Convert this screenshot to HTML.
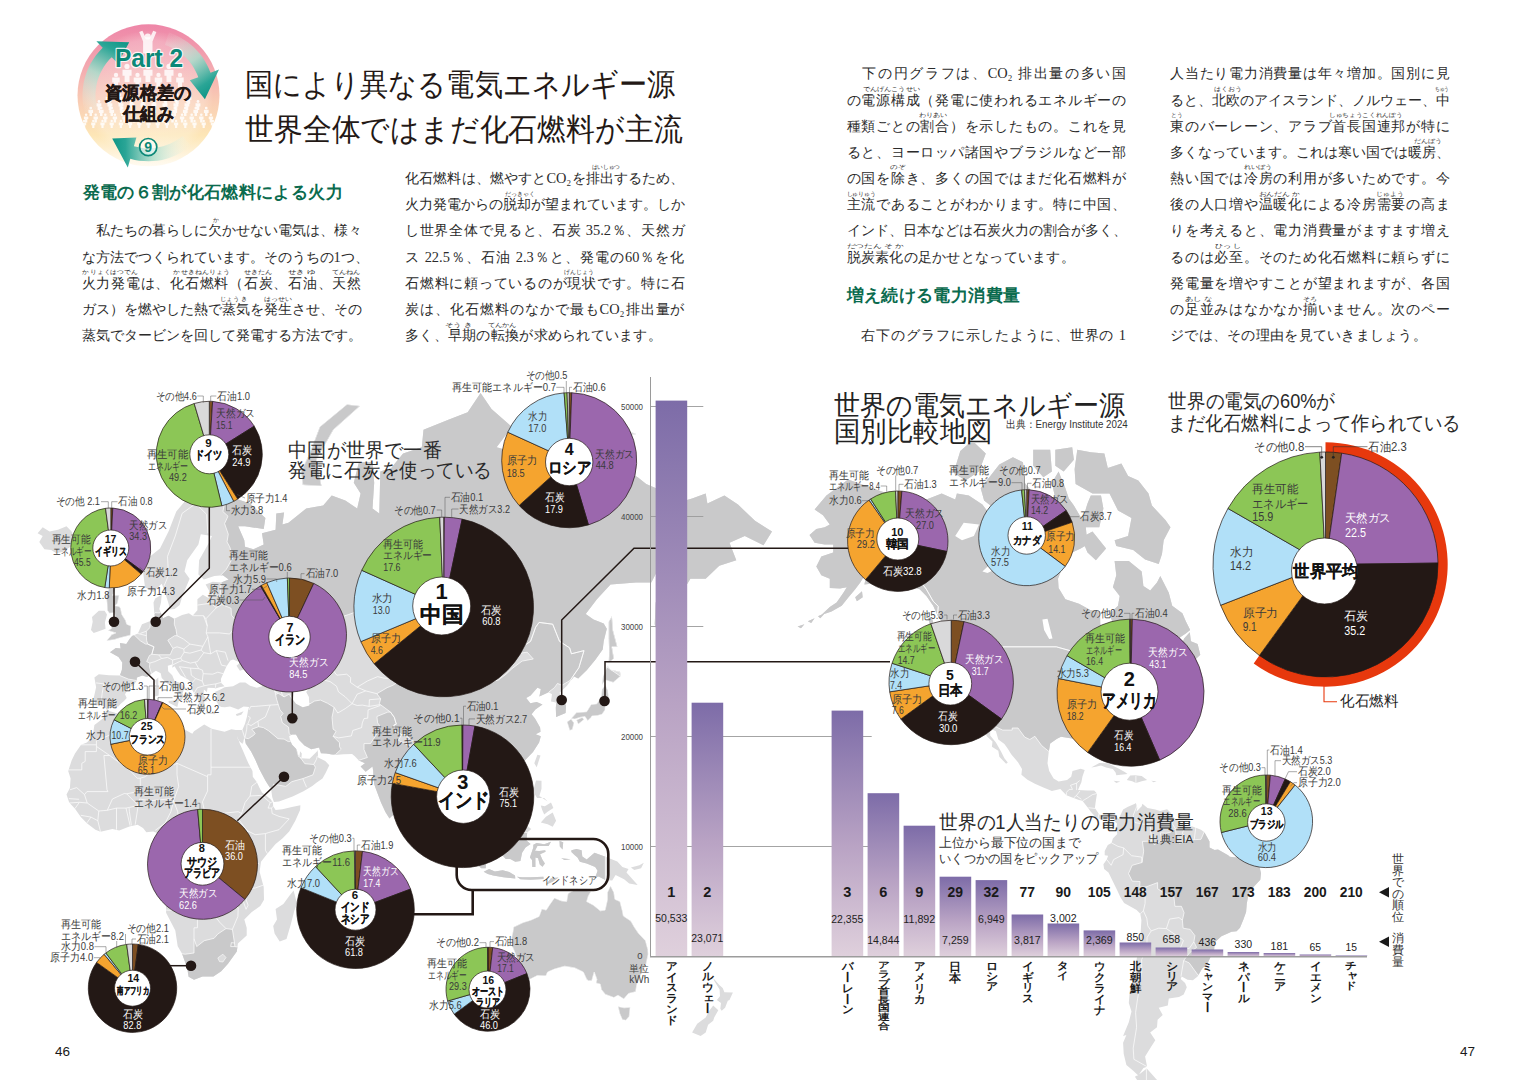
<!DOCTYPE html>
<html lang="ja"><head><meta charset="utf-8"><title>国により異なる電気エネルギー源</title>
<style>
html,body{margin:0;padding:0;background:#fff}
body{width:1530px;height:1080px;position:relative;overflow:hidden;font-family:"Liberation Sans",sans-serif;color:#231815}
svg text{font-family:"Liberation Sans",sans-serif}
.bt{position:absolute;white-space:nowrap;font-family:"Liberation Serif",serif;font-size:14.4px;line-height:20px;height:20px;color:#2b2b2b;text-align:justify;text-align-last:justify;text-justify:inter-character}
.bt.l{text-align:left;text-align-last:left;letter-spacing:.28px}
.hd{position:absolute;white-space:nowrap;font-weight:bold;font-size:17px;line-height:22px;height:22px;color:#0b6b4e;text-align-last:justify;text-justify:inter-character}
.rb{position:absolute;white-space:nowrap;font-family:"Liberation Serif",serif;font-size:6px;line-height:7px;color:#333;letter-spacing:0}
.pn{position:absolute;font-size:13.5px;line-height:16px;color:#1a1a1a}
</style></head><body>
<svg width="765" height="170" viewBox="0 0 765 170" style="position:absolute;left:0;top:0"><defs><linearGradient id="bdg" x1="0" y1="0" x2="0" y2="1"><stop offset="0" stop-color="#ee86a8"/><stop offset="0.3" stop-color="#f3a9b0"/><stop offset="0.55" stop-color="#f9cdb4"/><stop offset="0.78" stop-color="#fde6b6"/><stop offset="1" stop-color="#fffbf2"/></linearGradient><radialGradient id="bdi" cx="0.5" cy="0.5" r="0.5"><stop offset="0" stop-color="#fff" stop-opacity="0.35"/><stop offset="0.85" stop-color="#fff" stop-opacity="0.22"/><stop offset="1" stop-color="#fff" stop-opacity="0"/></radialGradient></defs><circle cx="148.5" cy="95.3" r="71" fill="url(#bdg)"/><circle cx="148.5" cy="95.3" r="65" fill="url(#bdi)"/><g fill="#fff" fill-opacity="0.82"><circle cx="147.8" cy="36.5" r="3.1"/><path d="M139.2 32l3.2-1.2 3 6.5h4.8l3-6.5 3.2 1.2-3.9 9.5v12h-9.4v-12z"/><circle cx="127.0" cy="66.4" r="2.6"/><path d="M122.5 69.7h9.1v6.0h-2.1v6.3h-4.9v-6.3h-2.1z"/><circle cx="148.0" cy="66.4" r="2.6"/><path d="M143.4 69.7h9.1v6.0h-2.1v6.3h-4.9v-6.3h-2.1z"/><circle cx="169.0" cy="66.4" r="2.6"/><path d="M164.4 69.7h9.1v6.0h-2.1v6.3h-4.9v-6.3h-2.1z"/><circle cx="116.0" cy="74.9" r="2.2"/><path d="M112.2 77.6h7.5v4.9h-1.7v5.2h-4.1v-5.2h-1.7z"/><circle cx="137.5" cy="74.9" r="2.2"/><path d="M133.7 77.6h7.5v4.9h-1.7v5.2h-4.1v-5.2h-1.7z"/><circle cx="158.5" cy="74.9" r="2.2"/><path d="M154.7 77.6h7.5v4.9h-1.7v5.2h-4.1v-5.2h-1.7z"/><circle cx="180.0" cy="74.9" r="2.2"/><path d="M176.2 77.6h7.5v4.9h-1.7v5.2h-4.1v-5.2h-1.7z"/><circle cx="108.2" cy="94.8" r="1.5"/><path d="M105.7 96.7h5.2v3.4h-1.2v3.6h-2.8v-3.6h-1.2z"/><circle cx="119.8" cy="94.8" r="1.5"/><path d="M117.2 96.7h5.2v3.4h-1.2v3.6h-2.8v-3.6h-1.2z"/><circle cx="131.2" cy="94.8" r="1.5"/><path d="M128.7 96.7h5.2v3.4h-1.2v3.6h-2.8v-3.6h-1.2z"/><circle cx="142.8" cy="94.8" r="1.5"/><path d="M140.2 96.7h5.2v3.4h-1.2v3.6h-2.8v-3.6h-1.2z"/><circle cx="154.2" cy="94.8" r="1.5"/><path d="M151.7 96.7h5.2v3.4h-1.2v3.6h-2.8v-3.6h-1.2z"/><circle cx="165.8" cy="94.8" r="1.5"/><path d="M163.2 96.7h5.2v3.4h-1.2v3.6h-2.8v-3.6h-1.2z"/><circle cx="177.2" cy="94.8" r="1.5"/><path d="M174.7 96.7h5.2v3.4h-1.2v3.6h-2.8v-3.6h-1.2z"/><circle cx="188.8" cy="94.8" r="1.5"/><path d="M186.2 96.7h5.2v3.4h-1.2v3.6h-2.8v-3.6h-1.2z"/><circle cx="99.0" cy="101.5" r="1.4"/><path d="M96.5 103.3h4.9v3.2h-1.1v3.4h-2.7v-3.4h-1.1z"/><circle cx="110.0" cy="101.5" r="1.4"/><path d="M107.5 103.3h4.9v3.2h-1.1v3.4h-2.7v-3.4h-1.1z"/><circle cx="121.0" cy="101.5" r="1.4"/><path d="M118.5 103.3h4.9v3.2h-1.1v3.4h-2.7v-3.4h-1.1z"/><circle cx="132.0" cy="101.5" r="1.4"/><path d="M129.5 103.3h4.9v3.2h-1.1v3.4h-2.7v-3.4h-1.1z"/><circle cx="143.0" cy="101.5" r="1.4"/><path d="M140.5 103.3h4.9v3.2h-1.1v3.4h-2.7v-3.4h-1.1z"/><circle cx="154.0" cy="101.5" r="1.4"/><path d="M151.5 103.3h4.9v3.2h-1.1v3.4h-2.7v-3.4h-1.1z"/><circle cx="165.0" cy="101.5" r="1.4"/><path d="M162.5 103.3h4.9v3.2h-1.1v3.4h-2.7v-3.4h-1.1z"/><circle cx="176.0" cy="101.5" r="1.4"/><path d="M173.5 103.3h4.9v3.2h-1.1v3.4h-2.7v-3.4h-1.1z"/><circle cx="187.0" cy="101.5" r="1.4"/><path d="M184.5 103.3h4.9v3.2h-1.1v3.4h-2.7v-3.4h-1.1z"/><circle cx="198.0" cy="101.5" r="1.4"/><path d="M195.5 103.3h4.9v3.2h-1.1v3.4h-2.7v-3.4h-1.1z"/><circle cx="90.8" cy="108.1" r="1.4"/><path d="M88.4 109.8h4.7v3.1h-1.1v3.2h-2.5v-3.2h-1.1z"/><circle cx="101.2" cy="108.1" r="1.4"/><path d="M98.9 109.8h4.7v3.1h-1.1v3.2h-2.5v-3.2h-1.1z"/><circle cx="111.8" cy="108.1" r="1.4"/><path d="M109.4 109.8h4.7v3.1h-1.1v3.2h-2.5v-3.2h-1.1z"/><circle cx="122.2" cy="108.1" r="1.4"/><path d="M119.9 109.8h4.7v3.1h-1.1v3.2h-2.5v-3.2h-1.1z"/><circle cx="132.8" cy="108.1" r="1.4"/><path d="M130.4 109.8h4.7v3.1h-1.1v3.2h-2.5v-3.2h-1.1z"/><circle cx="143.2" cy="108.1" r="1.4"/><path d="M140.9 109.8h4.7v3.1h-1.1v3.2h-2.5v-3.2h-1.1z"/><circle cx="153.8" cy="108.1" r="1.4"/><path d="M151.4 109.8h4.7v3.1h-1.1v3.2h-2.5v-3.2h-1.1z"/><circle cx="164.2" cy="108.1" r="1.4"/><path d="M161.9 109.8h4.7v3.1h-1.1v3.2h-2.5v-3.2h-1.1z"/><circle cx="174.8" cy="108.1" r="1.4"/><path d="M172.4 109.8h4.7v3.1h-1.1v3.2h-2.5v-3.2h-1.1z"/><circle cx="185.2" cy="108.1" r="1.4"/><path d="M182.9 109.8h4.7v3.1h-1.1v3.2h-2.5v-3.2h-1.1z"/><circle cx="195.8" cy="108.1" r="1.4"/><path d="M193.4 109.8h4.7v3.1h-1.1v3.2h-2.5v-3.2h-1.1z"/><circle cx="206.2" cy="108.1" r="1.4"/><path d="M203.9 109.8h4.7v3.1h-1.1v3.2h-2.5v-3.2h-1.1z"/><circle cx="86.1" cy="114.8" r="1.3"/><path d="M83.9 116.4h4.4v2.9h-1.0v3.1h-2.4v-3.1h-1.0z"/><circle cx="95.7" cy="114.8" r="1.3"/><path d="M93.5 116.4h4.4v2.9h-1.0v3.1h-2.4v-3.1h-1.0z"/><circle cx="105.3" cy="114.8" r="1.3"/><path d="M103.1 116.4h4.4v2.9h-1.0v3.1h-2.4v-3.1h-1.0z"/><circle cx="114.9" cy="114.8" r="1.3"/><path d="M112.7 116.4h4.4v2.9h-1.0v3.1h-2.4v-3.1h-1.0z"/><circle cx="124.5" cy="114.8" r="1.3"/><path d="M122.3 116.4h4.4v2.9h-1.0v3.1h-2.4v-3.1h-1.0z"/><circle cx="134.1" cy="114.8" r="1.3"/><path d="M131.9 116.4h4.4v2.9h-1.0v3.1h-2.4v-3.1h-1.0z"/><circle cx="143.7" cy="114.8" r="1.3"/><path d="M141.5 116.4h4.4v2.9h-1.0v3.1h-2.4v-3.1h-1.0z"/><circle cx="153.3" cy="114.8" r="1.3"/><path d="M151.1 116.4h4.4v2.9h-1.0v3.1h-2.4v-3.1h-1.0z"/><circle cx="162.9" cy="114.8" r="1.3"/><path d="M160.7 116.4h4.4v2.9h-1.0v3.1h-2.4v-3.1h-1.0z"/><circle cx="172.5" cy="114.8" r="1.3"/><path d="M170.3 116.4h4.4v2.9h-1.0v3.1h-2.4v-3.1h-1.0z"/><circle cx="182.1" cy="114.8" r="1.3"/><path d="M179.9 116.4h4.4v2.9h-1.0v3.1h-2.4v-3.1h-1.0z"/><circle cx="191.7" cy="114.8" r="1.3"/><path d="M189.5 116.4h4.4v2.9h-1.0v3.1h-2.4v-3.1h-1.0z"/><circle cx="201.3" cy="114.8" r="1.3"/><path d="M199.1 116.4h4.4v2.9h-1.0v3.1h-2.4v-3.1h-1.0z"/><circle cx="210.9" cy="114.8" r="1.3"/><path d="M208.7 116.4h4.4v2.9h-1.0v3.1h-2.4v-3.1h-1.0z"/><circle cx="84.1" cy="120.9" r="1.2"/><path d="M82.0 122.5h4.2v2.7h-1.0v2.9h-2.2v-2.9h-1.0z"/><circle cx="93.3" cy="120.9" r="1.2"/><path d="M91.2 122.5h4.2v2.7h-1.0v2.9h-2.2v-2.9h-1.0z"/><circle cx="102.5" cy="120.9" r="1.2"/><path d="M100.4 122.5h4.2v2.7h-1.0v2.9h-2.2v-2.9h-1.0z"/><circle cx="111.7" cy="120.9" r="1.2"/><path d="M109.6 122.5h4.2v2.7h-1.0v2.9h-2.2v-2.9h-1.0z"/><circle cx="120.9" cy="120.9" r="1.2"/><path d="M118.8 122.5h4.2v2.7h-1.0v2.9h-2.2v-2.9h-1.0z"/><circle cx="130.1" cy="120.9" r="1.2"/><path d="M128.0 122.5h4.2v2.7h-1.0v2.9h-2.2v-2.9h-1.0z"/><circle cx="139.3" cy="120.9" r="1.2"/><path d="M137.2 122.5h4.2v2.7h-1.0v2.9h-2.2v-2.9h-1.0z"/><circle cx="148.5" cy="120.9" r="1.2"/><path d="M146.4 122.5h4.2v2.7h-1.0v2.9h-2.2v-2.9h-1.0z"/><circle cx="157.7" cy="120.9" r="1.2"/><path d="M155.6 122.5h4.2v2.7h-1.0v2.9h-2.2v-2.9h-1.0z"/><circle cx="166.9" cy="120.9" r="1.2"/><path d="M164.8 122.5h4.2v2.7h-1.0v2.9h-2.2v-2.9h-1.0z"/><circle cx="176.1" cy="120.9" r="1.2"/><path d="M174.0 122.5h4.2v2.7h-1.0v2.9h-2.2v-2.9h-1.0z"/><circle cx="185.3" cy="120.9" r="1.2"/><path d="M183.2 122.5h4.2v2.7h-1.0v2.9h-2.2v-2.9h-1.0z"/><circle cx="194.5" cy="120.9" r="1.2"/><path d="M192.4 122.5h4.2v2.7h-1.0v2.9h-2.2v-2.9h-1.0z"/><circle cx="203.7" cy="120.9" r="1.2"/><path d="M201.6 122.5h4.2v2.7h-1.0v2.9h-2.2v-2.9h-1.0z"/><circle cx="212.9" cy="120.9" r="1.2"/><path d="M210.8 122.5h4.2v2.7h-1.0v2.9h-2.2v-2.9h-1.0z"/></g><defs><linearGradient id="ar0" gradientUnits="userSpaceOnUse" x1="91.0" y1="110.7" x2="128.1" y2="39.4"><stop offset="0" stop-color="#e9f5ea" stop-opacity="0.1"/><stop offset="0.45" stop-color="#a9dccb" stop-opacity="0.85"/><stop offset="0.8" stop-color="#2aa596"/><stop offset="1" stop-color="#0a9384"/></linearGradient><linearGradient id="ar1" gradientUnits="userSpaceOnUse" x1="166.9" y1="38.7" x2="207.9" y2="99.5"><stop offset="0" stop-color="#e9f5ea" stop-opacity="0.1"/><stop offset="0.45" stop-color="#a9dccb" stop-opacity="0.85"/><stop offset="0.8" stop-color="#2aa596"/><stop offset="1" stop-color="#0a9384"/></linearGradient><linearGradient id="ar2" gradientUnits="userSpaceOnUse" x1="186.7" y1="140.9" x2="110.3" y2="140.9"><stop offset="0" stop-color="#e9f5ea" stop-opacity="0.1"/><stop offset="0.45" stop-color="#a9dccb" stop-opacity="0.85"/><stop offset="0.8" stop-color="#2aa596"/><stop offset="1" stop-color="#0a9384"/></linearGradient></defs><path d="M84.7 112.4L83.6 107.5L82.9 102.5L82.5 97.5L82.6 92.5L83.0 87.5L83.7 82.5L84.9 77.7L86.4 72.9L88.3 68.2L90.5 63.7L93.1 59.4L96.0 55.3L99.2 51.4L102.7 47.8L96.4 41.3L129.2 42.2L117.9 63.6L111.7 57.2L108.9 60.1L106.3 63.2L104.0 66.5L102.0 70.0L100.2 73.6L98.7 77.3L97.4 81.1L96.5 85.1L95.9 89.0L95.5 93.1L95.5 97.1L95.8 101.1L96.4 105.1L97.3 109.0Z" fill="url(#ar0)"/><path d="M168.9 32.5L172.9 34.0L176.8 35.7L180.6 37.7L184.3 39.9L187.8 42.3L191.2 45.0L194.3 47.8L197.3 50.9L200.1 54.1L202.7 57.6L205.0 61.2L207.1 64.9L208.9 68.8L210.5 72.7L219.0 69.6L204.9 99.2L189.8 80.3L198.3 77.2L197.0 74.0L195.5 70.9L193.9 67.9L192.0 65.0L189.9 62.3L187.7 59.6L185.3 57.2L182.8 54.9L180.1 52.7L177.3 50.8L174.3 49.0L171.3 47.4L168.1 46.1L164.9 44.9Z" fill="url(#ar1)"/><path d="M190.9 145.9L187.3 148.7L183.5 151.3L179.5 153.6L175.3 155.6L171.1 157.3L166.7 158.7L162.2 159.9L157.7 160.7L153.1 161.1L148.5 161.3L143.9 161.1L139.3 160.7L134.8 159.9L130.3 158.7L127.8 167.4L112.2 138.6L136.4 137.6L133.9 146.2L137.5 147.1L141.1 147.8L144.8 148.2L148.5 148.3L152.2 148.2L155.9 147.8L159.5 147.1L163.1 146.2L166.6 145.1L170.1 143.7L173.4 142.1L176.6 140.2L179.7 138.2L182.6 135.9Z" fill="url(#ar2)"/><text x="149.0" y="67.0" font-size="25" fill="#0c8878" text-anchor="middle" textLength="68.0" lengthAdjust="spacingAndGlyphs" font-weight="bold" stroke="#fff" stroke-opacity="0.85" stroke-width="2.4" paint-order="stroke" stroke-linejoin="round">Part 2</text><text x="148.3" y="98.7" font-size="17.5" fill="#231815" text-anchor="middle" textLength="86.0" lengthAdjust="spacingAndGlyphs" font-weight="bold" stroke="#231815" stroke-width="0.5">資源格差の</text><text x="148.6" y="119.7" font-size="17.5" fill="#231815" text-anchor="middle" textLength="50.7" lengthAdjust="spacingAndGlyphs" font-weight="bold" stroke="#231815" stroke-width="0.5">仕組み</text><circle cx="148.2" cy="147.1" r="8.6" fill="#fff" fill-opacity=".55" stroke="#0c8878" stroke-width="1.7"/><text x="148.2" y="152.3" font-size="14" fill="#0c8878" text-anchor="middle" font-weight="bold">9</text><text x="245.0" y="95.3" font-size="30.5" fill="#231815" textLength="430.0" lengthAdjust="spacingAndGlyphs">国により異なる電気エネルギー源</text><text x="245.0" y="139.7" font-size="30.5" fill="#231815" textLength="437.5" lengthAdjust="spacingAndGlyphs">世界全体ではまだ化石燃料が主流</text></svg>
<div class="hd" style="left:82.5px;top:181.5px;width:260px">発電の６割が化石燃料による火力</div>
<div class="hd" style="left:846.5px;top:285px;width:173.5px">増え続ける電力消費量</div>
<div class="bt" style="left:81.5px;top:220.2px;width:279.5px;">　私たちの暮らしに欠かせない電気は、様々</div>
<div class="bt" style="left:81.5px;top:246.5px;width:279.5px;">な方法でつくられています。そのうちの1つ、</div>
<div class="bt" style="left:81.5px;top:272.7px;width:279.5px;">火力発電は、化石燃料（石炭、石油、天然</div>
<div class="bt" style="left:81.5px;top:298.9px;width:279.5px;">ガス）を燃やした熱で蒸気を発生させ、その</div>
<div class="bt" style="left:81.5px;top:324.9px;width:279.5px;">蒸気でタービンを回して発電する方法です。</div>
<div class="bt" style="left:405px;top:167.9px;width:279.5px;">化石燃料は、燃やすとCO₂を排出するため、</div>
<div class="bt" style="left:405px;top:194.2px;width:279.5px;">火力発電からの脱却が望まれています。しか</div>
<div class="bt" style="left:405px;top:220.2px;width:279.5px;">し世界全体で見ると、石炭 35.2％、天然ガ</div>
<div class="bt" style="left:405px;top:246.5px;width:279.5px;">ス 22.5％、石油 2.3％と、発電の60％を化</div>
<div class="bt" style="left:405px;top:272.7px;width:279.5px;">石燃料に頼っているのが現状です。特に石</div>
<div class="bt" style="left:405px;top:298.9px;width:279.5px;">炭は、化石燃料のなかで最もCO₂排出量が</div>
<div class="bt l" style="left:405px;top:324.9px;">多く、早期の転換が求められています。</div>
<div class="bt" style="left:846.5px;top:63.4px;width:279.5px;">　下の円グラフは、CO₂ 排出量の多い国</div>
<div class="bt" style="left:846.5px;top:89.6px;width:279.5px;">の電源構成（発電に使われるエネルギーの</div>
<div class="bt" style="left:846.5px;top:115.7px;width:279.5px;">種類ごとの割合）を示したもの。これを見</div>
<div class="bt" style="left:846.5px;top:141.8px;width:279.5px;">ると、ヨーロッパ諸国やブラジルなど一部</div>
<div class="bt" style="left:846.5px;top:167.9px;width:279.5px;">の国を除き、多くの国ではまだ化石燃料が</div>
<div class="bt" style="left:846.5px;top:194.2px;width:279.5px;">主流であることがわかります。特に中国、</div>
<div class="bt" style="left:846.5px;top:220.2px;width:279.5px;">インド、日本などは石炭火力の割合が多く、</div>
<div class="bt l" style="left:846.5px;top:246.5px;">脱炭素化の足かせとなっています。</div>
<div class="bt" style="left:846.5px;top:324.9px;width:279.5px;">　右下のグラフに示したように、世界の 1</div>
<div class="bt" style="left:1170px;top:63.4px;width:279.5px;">人当たり電力消費量は年々増加。国別に見</div>
<div class="bt" style="left:1170px;top:89.6px;width:279.5px;">ると、北欧のアイスランド、ノルウェー、中</div>
<div class="bt" style="left:1170px;top:115.7px;width:279.5px;">東のバーレーン、アラブ首長国連邦が特に</div>
<div class="bt" style="left:1170px;top:141.8px;width:279.5px;">多くなっています。これは寒い国では暖房、</div>
<div class="bt" style="left:1170px;top:167.9px;width:279.5px;">熱い国では冷房の利用が多いためです。今</div>
<div class="bt" style="left:1170px;top:194.2px;width:279.5px;">後の人口増や温暖化による冷房需要の高ま</div>
<div class="bt" style="left:1170px;top:220.2px;width:279.5px;">りを考えると、電力消費量がますます増え</div>
<div class="bt" style="left:1170px;top:246.5px;width:279.5px;">るのは必至。そのため化石燃料に頼らずに</div>
<div class="bt" style="left:1170px;top:272.7px;width:279.5px;">発電量を増やすことが望まれますが、各国</div>
<div class="bt" style="left:1170px;top:298.9px;width:279.5px;">の足並みはなかなか揃いません。次のペー</div>
<div class="bt l" style="left:1170px;top:324.9px;">ジでは、その理由を見ていきましょう。</div>
<div class="pn" style="left:55px;top:1044px">46</div>
<div class="pn" style="left:1460px;top:1044px">47</div>
<svg width="1530" height="1080" viewBox="0 0 1530 1080" style="position:absolute;left:0;top:0"><defs><clipPath id="landL"><path d="M107.0 709.9L104.2 706.4L100.8 704.6L95.7 705.5L93.7 697.9L96.1 687.2L94.4 677.6L98.8 674.2L109.0 675.2L119.9 675.6L121.9 669.7L122.3 662.6L118.5 656.9L110.0 652.2L115.8 647.9L120.6 648.4L119.9 643.0L126.3 644.1L131.4 636.3L137.9 633.4L142.0 624.2L149.8 621.2L155.2 618.8L154.2 612.0L153.5 602.5L155.2 598.6L161.7 594.7L161.0 602.5L159.3 608.9L163.1 618.2L168.5 615.7L174.3 618.8L182.1 615.1L188.9 613.3L192.6 615.7L197.4 610.2L197.4 599.3L202.8 594.7L208.6 598.0L209.0 590.6L205.6 584.5L212.7 581.7L221.2 582.4L228.7 579.6L222.9 575.3L214.4 576.0L203.9 579.6L198.4 574.5L199.1 560.3L209.3 541.9L212.0 535.9L200.8 534.2L198.4 544.4L187.2 560.3L184.5 571.6L189.6 578.8L182.4 596.0L179.7 605.1L174.6 608.9L169.5 609.5L168.8 604.5L164.1 589.3L161.7 583.8L153.2 592.0L145.0 587.2L143.0 571.6L148.1 558.0L160.0 548.5L168.5 531.6L176.3 511.5L187.2 498.6L200.8 490.3L213.7 481.7L222.9 483.9L231.4 490.3L238.2 499.6L250.1 503.6L265.4 518.1L263.7 529.0L245.0 526.3L238.2 526.3L244.3 540.2L245.0 546.8L253.5 549.3L263.7 544.4L262.0 533.3L275.6 529.8L276.3 513.4L284.1 512.4L282.4 524.5L288.5 522.7L306.2 508.6L323.2 505.6L331.7 495.5L345.3 500.6L357.2 508.6L360.6 493.5L353.8 482.8L358.9 462.2L372.5 462.2L374.2 482.8L372.5 508.6L379.3 513.4L380.3 471.6L391.2 468.1L403.1 453.6L421.8 447.2L423.5 429.7L449.0 419.6L467.7 412.2L480.6 393.0L491.5 409.1L511.9 426.9L496.6 447.2L510.2 451.0L530.6 459.7L547.6 451.0L562.9 465.7L569.7 482.8L579.9 478.4L600.3 468.1L605.4 462.2L622.4 468.1L637.7 477.3L646.2 483.9L668.3 493.5L675.1 503.6L692.1 498.6L705.7 493.5L707.4 503.6L724.4 495.5L738.0 504.6L755.0 520.8L772.0 531.6L763.5 545.2L744.8 535.9L729.5 542.7L736.3 560.3L719.3 565.7L705.7 578.8L690.4 578.8L681.9 592.7L676.8 604.5L670.0 624.2L658.8 635.7L654.7 624.2L655.7 602.5L661.5 592.7L680.2 567.9L670.0 565.7L658.8 567.9L651.3 582.4L636.0 582.4L610.5 584.5L596.9 599.3L585.7 613.9L593.5 619.4L603.7 623.6L606.8 628.8L603.7 641.3L602.7 649.5L595.2 660.0L586.7 670.2L578.2 678.6L574.1 676.6L570.4 681.0L567.0 685.8L559.5 692.8L566.0 705.5L565.6 713.0L556.1 716.9L555.8 707.7L556.4 702.4L551.0 701.5L552.0 694.2L548.6 692.3L539.4 696.5L540.8 689.1L537.4 687.7L530.6 695.6L526.2 697.9L530.3 703.3L536.7 701.9L542.5 704.6L535.4 709.5L531.6 714.3L535.0 718.6L540.1 727.6L540.5 731.7L535.7 734.2L540.8 736.3L539.1 742.4L533.0 752.0L527.2 757.9L522.1 763.3L514.3 766.0L505.1 769.1L501.0 773.7L499.0 769.1L493.2 768.7L488.8 772.9L485.7 778.6L489.8 786.1L495.9 791.6L497.6 800.8L496.6 806.3L489.8 810.3L488.1 813.5L483.0 816.4L482.3 811.7L477.9 809.5L474.5 804.5L469.1 799.3L466.0 802.6L464.3 808.1L463.6 814.2L467.4 821.8L471.1 823.2L477.6 831.5L477.9 838.6L480.3 842.5L477.6 842.2L470.4 837.5L467.4 828.2L464.6 823.2L460.2 818.9L461.2 809.9L460.9 800.8L458.2 789.8L457.5 786.8L450.7 790.1L446.6 789.8L447.0 780.5L441.5 774.0L438.8 769.1L436.4 764.9L433.0 767.2L427.9 768.7L421.8 769.9L420.8 773.7L415.3 776.7L405.8 787.2L399.0 791.6L399.0 800.1L397.3 810.6L394.6 814.2L391.9 816.0L389.5 818.6L385.4 812.1L381.0 802.6L377.6 793.5L374.2 784.2L373.5 778.6L373.2 771.0L372.5 766.4L365.7 771.8L360.6 766.4L365.0 763.3L358.9 760.6L354.8 756.3L352.1 753.9L343.6 754.3L335.1 755.1L326.3 753.6L320.8 753.2L319.1 747.6L311.3 749.2L304.5 745.6L299.1 739.9L296.0 734.6L291.9 734.6L289.2 736.3L289.9 739.5L291.9 744.4L296.7 749.6L298.0 754.3L299.4 756.7L300.1 751.2L301.8 753.6L301.4 758.3L309.6 758.7L316.4 752.0L317.8 750.4L318.1 757.5L325.2 761.0L329.3 765.2L325.6 772.9L322.5 778.6L316.4 782.7L312.3 786.1L303.5 791.3L292.6 796.4L279.0 801.5L273.9 801.9L272.2 797.1L271.2 789.8L265.4 780.5L259.3 769.1L255.2 759.4L251.1 751.6L245.7 743.6L244.7 737.5L242.6 744.0L238.2 740.3L236.8 735.4L235.8 730.1L242.3 730.1L245.0 723.8L247.0 716.5L248.1 709.9L249.1 706.9L243.6 706.4L238.2 709.5L230.0 706.4L224.9 707.3L221.2 706.9L218.8 705.5L215.4 699.7L217.1 694.2L214.7 691.9L219.5 690.0L224.6 687.2L233.1 686.2L239.9 682.4L245.3 682.4L250.1 685.8L256.9 687.7L267.1 684.8L267.4 680.0L261.0 674.7L253.2 669.2L250.4 666.2L253.8 659.5L259.3 656.4L255.2 656.9L245.0 661.6L246.4 666.2L249.8 667.2L239.9 670.7L236.5 665.7L240.2 662.6L233.1 659.5L230.4 660.6L226.6 666.2L223.2 673.7L220.9 679.1L221.2 682.9L224.6 686.2L219.5 687.2L215.4 688.6L214.4 688.1L207.6 687.7L206.9 691.9L203.9 689.5L203.5 695.1L207.6 701.0L204.2 701.5L204.9 707.7L202.2 707.7L199.8 706.4L198.4 701.9L197.7 699.2L194.7 694.2L192.0 689.5L192.3 683.9L188.9 680.0L180.4 675.2L177.0 670.2L174.6 666.2L172.2 667.7L172.6 664.2L167.8 665.7L168.2 671.2L172.2 675.2L174.6 681.0L180.4 682.9L188.9 690.9L183.8 689.5L182.4 693.7L184.1 696.5L180.7 701.0L179.4 701.0L180.4 696.5L178.4 690.9L174.6 688.1L167.8 683.9L161.7 678.1L160.7 673.2L155.9 670.7L151.5 673.7L147.1 677.1L142.3 675.6L136.9 677.6L136.5 681.0L133.5 685.3L128.7 688.1L125.0 694.2L126.7 697.9L124.0 701.0L120.2 704.2L118.5 706.4L111.0 706.9ZM236.8 735.4L235.8 730.1L231.4 729.2L224.6 731.7L211.7 728.8L204.2 724.6L194.0 731.3L192.3 733.8L178.7 726.3L168.5 723.3L163.4 720.8L160.7 717.8L162.7 712.1L163.4 705.5L159.3 704.2L149.8 706.0L136.2 706.4L126.0 710.8L119.2 713.9L107.6 710.4L105.9 710.8L102.9 718.6L94.4 725.0L92.7 736.3L86.9 742.4L81.1 744.8L75.0 753.6L71.6 760.6L68.2 771.0L70.6 778.6L69.9 787.9L66.5 794.6L69.2 802.6L75.0 808.8L80.8 817.1L86.9 823.2L95.4 829.7L100.5 831.8L112.4 829.0L119.2 830.4L129.4 826.5L137.6 824.7L143.0 827.9L146.4 832.2L153.2 831.5L158.3 833.6L159.3 840.4L157.6 845.7L155.9 850.0L160.0 858.2L166.1 864.6L167.5 868.9L170.9 879.0L172.9 886.9L168.5 896.0L166.1 907.1L166.1 912.7L175.3 930.5L177.7 946.2L182.1 953.8L187.2 967.9L188.6 976.8L194.0 979.8L202.5 976.4L213.4 976.4L221.2 971.2L228.0 963.7L231.4 959.1L236.8 951.4L237.9 943.4L246.7 935.6L246.7 927.8L244.3 919.4L251.5 912.3L260.3 906.0L264.0 899.7L263.7 886.9L259.6 871.8L261.0 861.8L267.1 853.9L275.6 843.9L282.4 838.6L289.2 831.5L295.3 820.7L300.1 809.9L300.4 805.2L291.9 807.0L282.4 809.2L275.6 809.9L273.2 806.3L272.9 802.6L270.5 799.0L262.0 792.4L259.6 787.9L256.9 782.3L252.8 776.7L252.5 771.0L248.4 763.3L246.7 759.4L243.3 751.6L240.2 744.4ZM293.6 890.5L297.0 903.4L294.3 910.8L290.9 924.0L286.5 939.1L279.7 941.4L274.6 933.6L273.2 925.9L277.0 919.4L275.6 908.9L283.4 904.1L289.2 896.0ZM105.6 628.8L104.9 622.4L107.0 614.5L104.6 610.8L98.8 610.8L92.0 617.0L92.7 621.8L91.0 630.0L93.7 632.9L98.8 631.2ZM44.4 549.3L39.3 541.9L42.7 535.9L37.6 533.3L42.7 527.2L49.5 531.6L58.0 529.8L66.5 526.3L71.6 531.6L74.3 538.5L71.6 546.0L63.1 551.7L56.3 553.3L51.2 550.1ZM537.4 754.7L540.5 755.5L536.7 767.2L534.3 763.3ZM397.7 812.8L402.1 817.1L404.1 822.5L400.0 826.1L397.3 822.5ZM536.0 780.5L541.5 780.8L541.5 788.7L539.4 796.0L547.6 801.5L544.2 797.9L537.1 797.9L535.0 794.6L533.7 789.0ZM540.8 822.5L545.9 816.8L552.7 812.4L556.1 820.7L552.7 826.8L547.6 824.3ZM540.8 805.5L544.9 806.3L551.0 802.6L553.4 808.1L547.6 811.7L544.2 814.6L542.2 809.9ZM524.8 817.5L532.3 807.0L530.6 810.6L525.8 816.4ZM571.4 850.3L576.5 848.9L581.6 850.3L582.3 856.4L586.7 859.6L594.5 852.8L605.4 856.8L617.3 861.4L622.4 867.1L628.5 868.9L626.5 872.5L637.7 885.1L629.2 883.6L624.1 879.3L615.6 875.0L612.2 880.4L605.4 880.0L598.6 876.4L595.2 877.5L597.6 870.7L595.2 867.1L586.7 863.5L579.9 861.8L577.5 857.5L574.8 855.3L571.4 852.1ZM630.9 867.5L639.4 865.3L643.8 862.8L641.1 868.2L634.3 870.0ZM713.2 978.1L719.3 985.1L722.7 988.1L724.4 992.2L732.9 992.6L729.5 999.9L727.8 1000.8L725.1 1007.8L721.7 1010.7L720.3 1008.8L721.0 1003.1L716.9 999.9L720.0 996.2L719.6 989.5L714.2 980.7ZM713.2 1005.5L718.3 1010.2L714.2 1017.4L713.2 1020.8L708.1 1024.8L705.7 1032.4L700.6 1036.0L692.1 1032.4L697.2 1023.8L705.7 1017.4L709.1 1011.1ZM608.8 662.6L613.9 658.5L611.9 646.8L617.3 646.8L612.9 630.0L611.9 616.3L608.8 621.8L608.8 638.5L609.1 652.2ZM302.8 485.0L321.5 486.1L316.4 459.7L333.4 429.7L359.9 406.0L347.0 404.4L319.8 426.9L309.6 453.6L301.1 471.6ZM591.8 433.9L608.8 419.6L619.0 426.9L636.0 433.9L615.6 440.6L598.6 440.6ZM495.6 777.4L501.7 774.4L503.4 776.3L500.0 781.2L495.6 780.5ZM496.6 842.2L501.0 841.4L504.4 838.2L510.2 836.1L517.0 829.7L522.8 822.5L527.2 826.1L531.3 829.0L527.2 832.5L526.5 840.4L530.6 843.9L525.5 847.5L522.1 852.8L520.4 861.0L515.3 861.8L510.2 858.9L505.8 858.9L500.0 852.8L496.6 846.8ZM545.9 884.4L551.0 878.2L558.5 877.5L552.7 881.8L547.6 884.0ZM153.9 687.7L159.0 686.2L158.6 695.6L154.6 696.5ZM168.5 701.0L179.0 700.1L177.3 706.9L168.8 702.8ZM206.2 712.1L215.4 713.0L215.1 714.3L206.2 713.5ZM235.8 714.3L243.6 711.3L241.3 714.8L236.8 716.1ZM155.2 680.5L158.3 677.6L158.3 685.3L155.9 684.8ZM106.6 640.8L114.1 639.7L119.5 638.0L130.4 635.2L131.1 625.9L126.7 624.2L125.7 620.6L121.9 614.5L120.6 608.3L119.2 606.4L115.1 605.7L117.5 603.2L119.2 595.3L112.7 595.3L115.5 588.6L109.0 588.6L106.3 596.0L107.0 603.8L107.3 610.2L109.3 613.3L114.4 612.7L115.5 619.4L115.1 621.8L110.4 622.4L111.7 628.3L108.0 630.6L115.8 632.9L111.7 634.6ZM571.1 718.6L576.5 712.6L586.7 711.7L591.1 704.6L596.9 703.7L601.3 696.5L602.0 689.5L605.4 684.8L607.8 690.5L608.5 696.5L605.4 700.1L605.1 709.9L602.0 714.3L597.6 715.6L591.8 716.1L591.1 717.4L587.7 720.8L585.0 716.5L579.9 717.4L574.8 719.1ZM571.1 719.1L574.1 722.9L572.4 729.6L569.7 730.5L568.0 725.0L567.0 722.1L569.0 720.4ZM576.5 719.9L582.3 717.4L584.0 719.5L578.2 724.2ZM602.0 684.8L603.0 676.6L607.4 665.7L610.5 669.7L620.0 671.7L620.7 676.1L613.2 682.4L605.4 680.0ZM450.0 827.5L457.5 829.0L466.0 837.5L477.9 847.5L481.3 853.9L486.4 858.9L485.7 868.2L481.3 868.2L473.8 861.8L467.0 851.1L461.6 841.4L455.8 835.7L450.4 830.4ZM483.7 871.8L489.1 868.9L494.9 871.4L502.7 870.3L509.2 872.1L515.0 875.4L515.3 878.6L503.4 877.2L493.2 875.4L487.8 873.9ZM533.3 844.7L536.7 842.9L544.2 844.3L551.0 841.8L548.6 846.1L537.4 846.1L535.0 850.7L539.1 851.1L545.2 850.3L545.6 851.8L540.1 854.3L542.2 859.3L544.9 863.5L542.5 866.8L539.8 864.6L538.1 858.2L535.4 857.5L535.4 867.1L532.3 867.1L532.0 860.0L529.9 857.5L533.3 847.5ZM517.0 876.8L522.1 877.2L530.6 877.2L543.5 876.8L543.5 879.0L530.6 879.7L520.4 879.3ZM559.5 841.1L563.2 842.2L562.6 849.6L559.8 846.4ZM561.2 858.2L570.7 859.3L564.6 860.0ZM513.6 927.1L523.1 922.5L530.6 920.2L539.1 916.4L541.8 908.9L546.2 910.1L549.3 905.2L554.4 897.9L561.2 900.8L566.6 901.5L568.0 893.5L570.7 892.0L576.8 888.7L586.7 890.5L591.1 891.3L588.4 896.0L586.7 901.5L593.5 905.2L600.3 910.8L605.1 910.1L607.4 899.7L607.4 892.4L610.5 885.8L613.9 892.4L614.9 899.3L620.0 901.5L622.4 910.8L623.4 916.0L630.9 921.0L634.3 927.1L638.7 933.6L645.5 940.7L647.9 949.4L648.2 954.2L646.2 963.7L642.8 971.2L640.1 975.9L636.7 985.1L635.7 991.7L628.5 993.5L623.8 999.0L618.0 995.3L613.9 997.6L605.4 994.4L601.3 989.5L600.3 984.2L595.9 982.9L596.9 979.4L594.2 972.1L591.8 980.7L588.4 980.7L586.7 979.4L583.3 972.1L574.8 967.9L564.6 966.2L554.4 969.1L547.6 972.1L545.9 975.9L537.4 975.5L532.3 978.1L527.2 980.7L520.4 980.7L517.0 977.6L519.4 967.9L517.0 961.6L515.3 953.4L511.9 945.4L511.6 937.5L512.9 931.7ZM618.0 1006.4L624.1 1007.8L630.2 1007.3L629.2 1016.4L625.8 1020.3L622.4 1019.8L619.7 1013.5Z"/></clipPath><clipPath id="landR"><path d="M809.5 535.1L816.3 529.0L824.7 527.2L829.8 524.5L823.0 515.3L814.6 509.5L826.4 495.5L848.1 479.5L863.7 485.0L887.5 493.5L901.0 497.6L916.3 504.6L926.4 499.6L941.7 493.5L955.2 499.6L956.9 493.5L968.8 495.5L982.4 504.6L989.1 513.4L1006.1 514.3L1012.9 508.6L1023.0 507.6L1034.9 516.2L1046.8 515.3L1053.6 511.5L1055.3 498.6L1051.9 482.8L1058.6 471.6L1065.4 488.2L1068.8 498.6L1073.9 505.6L1082.4 519.9L1087.5 503.6L1090.8 495.5L1101.0 495.5L1103.4 508.6L1099.3 527.2L1085.8 527.2L1087.5 544.4L1080.7 548.5L1072.2 552.5L1063.7 564.1L1058.0 578.8L1058.6 587.9L1065.4 599.3L1079.0 603.8L1090.8 610.2L1100.0 611.4L1100.3 624.2L1106.1 634.0L1111.2 632.9L1112.2 621.2L1109.5 613.9L1118.0 605.7L1119.7 596.0L1112.9 587.2L1116.3 575.3L1114.6 561.1L1128.8 561.1L1141.7 571.6L1143.4 585.9L1150.2 590.6L1157.0 582.4L1160.3 576.0L1168.8 592.7L1172.2 605.7L1182.4 613.3L1185.8 621.2L1190.2 630.0L1185.8 633.4L1175.6 640.2L1162.0 639.7L1153.6 640.2L1146.8 646.8L1141.7 654.8L1148.5 649.0L1158.7 645.7L1161.0 650.6L1157.0 653.2L1159.3 657.4L1162.0 661.6L1170.5 663.1L1175.6 661.1L1172.2 666.2L1163.7 669.7L1155.9 674.7L1154.6 670.2L1160.3 666.2L1151.9 667.7L1145.1 672.7L1141.0 674.7L1139.3 679.5L1141.7 683.4L1136.6 685.3L1128.1 688.6L1127.5 694.2L1124.8 697.4L1122.4 703.3L1121.4 706.0L1123.1 713.0L1118.0 716.1L1112.9 719.5L1107.8 724.6L1103.7 729.2L1103.1 734.2L1106.1 742.0L1107.8 748.4L1106.8 754.3L1103.7 754.7L1101.7 750.4L1098.3 744.4L1098.6 739.5L1094.2 735.4L1089.2 736.7L1082.4 734.2L1077.3 734.2L1076.3 738.7L1070.5 738.3L1061.0 736.7L1057.0 738.7L1050.2 743.6L1048.8 751.6L1047.5 763.3L1049.2 771.0L1053.6 778.6L1058.6 781.6L1067.1 780.1L1071.2 776.7L1072.5 771.0L1080.7 768.7L1084.7 769.9L1082.4 776.7L1081.4 782.3L1079.7 786.1L1078.0 790.1L1087.5 790.5L1094.2 790.5L1097.0 793.5L1095.6 802.6L1094.9 808.1L1099.3 814.6L1104.4 816.0L1109.5 813.5L1116.6 816.4L1114.9 821.8L1112.9 817.8L1109.5 815.7L1106.1 821.4L1102.7 820.0L1098.0 818.2L1095.3 816.8L1090.8 811.7L1088.1 808.1L1082.4 800.8L1079.0 800.1L1072.2 797.5L1066.4 795.3L1060.3 789.0L1051.9 790.9L1043.4 787.6L1034.9 783.8L1027.5 779.7L1021.4 774.8L1022.0 769.1L1018.0 762.2L1011.2 754.3L1007.8 748.8L1004.4 744.0L998.3 739.5L995.9 731.3L990.2 728.4L990.2 735.4L995.9 742.4L1001.0 751.6L1004.4 758.3L1007.8 762.5L1006.1 763.7L999.3 756.7L998.3 750.8L991.9 746.8L992.5 741.6L986.8 736.3L983.4 728.0L982.0 725.0L977.3 718.6L970.2 716.5L965.8 707.3L963.7 701.9L959.3 694.2L957.3 690.0L958.3 677.6L958.6 661.6L956.3 650.0L963.7 654.8L962.0 646.8L956.9 641.3L946.8 632.9L943.4 624.2L937.3 615.1L933.2 605.7L926.4 596.0L919.7 589.3L912.9 587.2L905.1 581.0L890.8 578.8L882.4 573.1L875.6 578.8L870.5 583.8L864.4 584.5L867.1 571.6L860.3 582.4L855.2 589.3L848.5 597.3L841.7 605.7L831.5 611.4L821.3 615.1L829.8 607.0L836.6 602.5L843.4 592.7L846.8 587.2L840.0 588.6L829.8 587.9L829.8 578.8L821.3 575.3L816.3 566.4L821.3 556.4L833.2 552.5L833.2 544.4L824.7 544.4L814.6 542.7ZM1158.7 564.1L1145.1 559.6L1133.2 550.1L1116.3 546.0L1114.6 540.2L1128.1 535.9L1131.5 518.1L1118.0 510.5L1109.5 493.5L1092.5 493.5L1075.6 483.9L1074.6 469.3L1077.3 449.8L1090.8 452.3L1104.4 453.6L1107.8 468.1L1121.4 463.4L1128.1 476.1L1138.3 480.6L1148.5 493.5L1151.9 505.6L1165.4 519.9L1170.5 527.2L1163.7 540.2L1162.0 554.1ZM980.7 488.2L999.3 464.6L1012.9 457.3L1023.0 462.2L1024.7 482.8L1034.9 495.5L1031.5 505.6L1019.7 504.6L994.2 508.6L984.1 500.6ZM953.6 472.7L960.3 451.0L972.2 440.6L985.8 453.6L979.0 471.6L965.4 480.6ZM1053.6 426.9L1080.7 410.6L1107.8 426.9L1107.8 440.6L1067.1 440.6ZM1073.9 412.2L1101.0 413.7L1114.6 407.5L1124.8 379.2L1141.7 350.5L1057.0 350.5L1063.7 387.9ZM982.4 426.9L1019.7 419.6L1023.0 433.9L1006.1 440.6L985.8 436.6ZM1033.2 449.8L1050.2 449.8L1051.9 471.6L1043.4 477.3L1033.2 465.7ZM1055.3 449.8L1072.2 447.2L1073.9 459.7L1063.7 471.6L1055.3 465.7ZM1084.1 535.9L1092.5 531.6L1106.1 548.5L1095.9 560.3L1087.5 552.5L1084.1 544.4ZM1178.0 654.3L1184.1 638.5L1189.8 632.3L1190.9 641.3L1197.6 644.1L1200.3 654.8L1195.9 659.0L1189.2 658.0ZM944.1 636.9L955.2 639.7L960.7 650.0L953.6 647.9ZM855.2 597.3L862.0 591.3L862.7 597.3L856.9 601.3ZM818.0 616.3L825.4 612.7L820.3 618.2ZM807.8 621.2L814.6 618.2L811.2 623.0ZM797.6 626.5L804.4 624.2L801.0 628.3ZM928.1 617.6L932.5 619.4L934.2 628.8L929.8 624.2ZM1116.6 816.4L1118.6 818.9L1123.1 809.5L1127.5 807.0L1134.9 803.7L1135.9 803.0L1137.3 808.1L1136.3 811.7L1141.7 806.3L1142.4 803.7L1147.5 808.1L1155.3 809.5L1160.3 811.0L1167.1 809.2L1170.5 812.4L1172.9 817.1L1180.7 822.5L1185.8 826.5L1192.5 826.5L1201.0 829.7L1204.4 832.2L1209.5 841.4L1209.5 847.5L1214.6 850.0L1218.0 849.6L1228.1 855.3L1229.8 856.8L1238.3 857.8L1246.8 860.0L1251.9 863.9L1259.3 866.0L1261.0 873.2L1260.3 879.7L1253.6 886.9L1248.5 894.2L1246.8 903.4L1246.1 911.9L1243.4 919.4L1240.0 927.8L1236.6 931.3L1231.5 931.7L1226.5 934.0L1221.4 936.3L1214.6 942.6L1214.2 949.4L1211.2 955.5L1207.8 962.9L1202.0 968.7L1197.6 976.4L1192.9 980.2L1187.5 979.8L1181.7 976.4L1180.7 978.9L1185.1 982.9L1186.8 987.3L1183.7 994.4L1179.0 997.1L1168.8 998.5L1167.8 1005.5L1158.7 1007.8L1162.7 1015.0L1157.6 1019.8L1157.0 1027.3L1150.2 1032.4L1155.3 1040.2L1150.2 1048.2L1145.1 1056.5L1147.1 1066.7L1143.4 1067.9L1138.3 1075.6L1133.2 1070.8L1126.4 1065.0L1123.7 1053.7L1123.1 1042.8L1126.4 1035.0L1123.1 1036.0L1128.8 1022.3L1131.5 1011.6L1128.8 1003.1L1129.8 990.4L1132.2 982.9L1135.9 972.1L1136.6 959.6L1140.0 941.4L1140.7 931.7L1141.4 920.2L1140.3 913.8L1136.6 910.1L1124.1 903.0L1120.3 897.1L1117.3 890.5L1112.9 881.5L1108.5 872.5L1104.1 868.9L1103.4 864.3L1106.8 859.6L1108.1 855.7L1104.7 855.3L1104.7 851.1L1107.8 845.0L1111.5 842.9L1112.9 838.6L1117.3 834.0L1116.3 827.9L1117.0 823.6L1114.9 821.8ZM1146.8 1068.5L1158.0 1081.1L1153.6 1083.6L1146.8 1084.8L1138.3 1081.7L1134.9 1076.8L1140.0 1073.8ZM1091.2 767.6L1099.3 762.9L1107.8 763.3L1118.0 768.3L1124.8 772.1L1127.5 774.0L1116.3 775.2L1115.6 772.5L1112.9 769.1L1106.1 767.6L1101.0 765.6L1095.9 766.8ZM1126.8 780.1L1130.2 775.6L1134.9 775.2L1141.7 775.9L1147.1 780.1L1141.7 781.2L1135.9 783.1L1132.2 781.2ZM1113.6 780.8L1120.3 781.6L1116.3 783.1ZM1151.2 780.8L1156.6 781.2L1153.6 782.3Z"/></clipPath><clipPath id="mapbox"><path d="M0 384H780V443H1530V1080H0Z"/></clipPath></defs><g clip-path="url(#mapbox)"><path d="M107.0 709.9L104.2 706.4L100.8 704.6L95.7 705.5L93.7 697.9L96.1 687.2L94.4 677.6L98.8 674.2L109.0 675.2L119.9 675.6L121.9 669.7L122.3 662.6L118.5 656.9L110.0 652.2L115.8 647.9L120.6 648.4L119.9 643.0L126.3 644.1L131.4 636.3L137.9 633.4L142.0 624.2L149.8 621.2L155.2 618.8L154.2 612.0L153.5 602.5L155.2 598.6L161.7 594.7L161.0 602.5L159.3 608.9L163.1 618.2L168.5 615.7L174.3 618.8L182.1 615.1L188.9 613.3L192.6 615.7L197.4 610.2L197.4 599.3L202.8 594.7L208.6 598.0L209.0 590.6L205.6 584.5L212.7 581.7L221.2 582.4L228.7 579.6L222.9 575.3L214.4 576.0L203.9 579.6L198.4 574.5L199.1 560.3L209.3 541.9L212.0 535.9L200.8 534.2L198.4 544.4L187.2 560.3L184.5 571.6L189.6 578.8L182.4 596.0L179.7 605.1L174.6 608.9L169.5 609.5L168.8 604.5L164.1 589.3L161.7 583.8L153.2 592.0L145.0 587.2L143.0 571.6L148.1 558.0L160.0 548.5L168.5 531.6L176.3 511.5L187.2 498.6L200.8 490.3L213.7 481.7L222.9 483.9L231.4 490.3L238.2 499.6L250.1 503.6L265.4 518.1L263.7 529.0L245.0 526.3L238.2 526.3L244.3 540.2L245.0 546.8L253.5 549.3L263.7 544.4L262.0 533.3L275.6 529.8L276.3 513.4L284.1 512.4L282.4 524.5L288.5 522.7L306.2 508.6L323.2 505.6L331.7 495.5L345.3 500.6L357.2 508.6L360.6 493.5L353.8 482.8L358.9 462.2L372.5 462.2L374.2 482.8L372.5 508.6L379.3 513.4L380.3 471.6L391.2 468.1L403.1 453.6L421.8 447.2L423.5 429.7L449.0 419.6L467.7 412.2L480.6 393.0L491.5 409.1L511.9 426.9L496.6 447.2L510.2 451.0L530.6 459.7L547.6 451.0L562.9 465.7L569.7 482.8L579.9 478.4L600.3 468.1L605.4 462.2L622.4 468.1L637.7 477.3L646.2 483.9L668.3 493.5L675.1 503.6L692.1 498.6L705.7 493.5L707.4 503.6L724.4 495.5L738.0 504.6L755.0 520.8L772.0 531.6L763.5 545.2L744.8 535.9L729.5 542.7L736.3 560.3L719.3 565.7L705.7 578.8L690.4 578.8L681.9 592.7L676.8 604.5L670.0 624.2L658.8 635.7L654.7 624.2L655.7 602.5L661.5 592.7L680.2 567.9L670.0 565.7L658.8 567.9L651.3 582.4L636.0 582.4L610.5 584.5L596.9 599.3L585.7 613.9L593.5 619.4L603.7 623.6L606.8 628.8L603.7 641.3L602.7 649.5L595.2 660.0L586.7 670.2L578.2 678.6L574.1 676.6L570.4 681.0L567.0 685.8L559.5 692.8L566.0 705.5L565.6 713.0L556.1 716.9L555.8 707.7L556.4 702.4L551.0 701.5L552.0 694.2L548.6 692.3L539.4 696.5L540.8 689.1L537.4 687.7L530.6 695.6L526.2 697.9L530.3 703.3L536.7 701.9L542.5 704.6L535.4 709.5L531.6 714.3L535.0 718.6L540.1 727.6L540.5 731.7L535.7 734.2L540.8 736.3L539.1 742.4L533.0 752.0L527.2 757.9L522.1 763.3L514.3 766.0L505.1 769.1L501.0 773.7L499.0 769.1L493.2 768.7L488.8 772.9L485.7 778.6L489.8 786.1L495.9 791.6L497.6 800.8L496.6 806.3L489.8 810.3L488.1 813.5L483.0 816.4L482.3 811.7L477.9 809.5L474.5 804.5L469.1 799.3L466.0 802.6L464.3 808.1L463.6 814.2L467.4 821.8L471.1 823.2L477.6 831.5L477.9 838.6L480.3 842.5L477.6 842.2L470.4 837.5L467.4 828.2L464.6 823.2L460.2 818.9L461.2 809.9L460.9 800.8L458.2 789.8L457.5 786.8L450.7 790.1L446.6 789.8L447.0 780.5L441.5 774.0L438.8 769.1L436.4 764.9L433.0 767.2L427.9 768.7L421.8 769.9L420.8 773.7L415.3 776.7L405.8 787.2L399.0 791.6L399.0 800.1L397.3 810.6L394.6 814.2L391.9 816.0L389.5 818.6L385.4 812.1L381.0 802.6L377.6 793.5L374.2 784.2L373.5 778.6L373.2 771.0L372.5 766.4L365.7 771.8L360.6 766.4L365.0 763.3L358.9 760.6L354.8 756.3L352.1 753.9L343.6 754.3L335.1 755.1L326.3 753.6L320.8 753.2L319.1 747.6L311.3 749.2L304.5 745.6L299.1 739.9L296.0 734.6L291.9 734.6L289.2 736.3L289.9 739.5L291.9 744.4L296.7 749.6L298.0 754.3L299.4 756.7L300.1 751.2L301.8 753.6L301.4 758.3L309.6 758.7L316.4 752.0L317.8 750.4L318.1 757.5L325.2 761.0L329.3 765.2L325.6 772.9L322.5 778.6L316.4 782.7L312.3 786.1L303.5 791.3L292.6 796.4L279.0 801.5L273.9 801.9L272.2 797.1L271.2 789.8L265.4 780.5L259.3 769.1L255.2 759.4L251.1 751.6L245.7 743.6L244.7 737.5L242.6 744.0L238.2 740.3L236.8 735.4L235.8 730.1L242.3 730.1L245.0 723.8L247.0 716.5L248.1 709.9L249.1 706.9L243.6 706.4L238.2 709.5L230.0 706.4L224.9 707.3L221.2 706.9L218.8 705.5L215.4 699.7L217.1 694.2L214.7 691.9L219.5 690.0L224.6 687.2L233.1 686.2L239.9 682.4L245.3 682.4L250.1 685.8L256.9 687.7L267.1 684.8L267.4 680.0L261.0 674.7L253.2 669.2L250.4 666.2L253.8 659.5L259.3 656.4L255.2 656.9L245.0 661.6L246.4 666.2L249.8 667.2L239.9 670.7L236.5 665.7L240.2 662.6L233.1 659.5L230.4 660.6L226.6 666.2L223.2 673.7L220.9 679.1L221.2 682.9L224.6 686.2L219.5 687.2L215.4 688.6L214.4 688.1L207.6 687.7L206.9 691.9L203.9 689.5L203.5 695.1L207.6 701.0L204.2 701.5L204.9 707.7L202.2 707.7L199.8 706.4L198.4 701.9L197.7 699.2L194.7 694.2L192.0 689.5L192.3 683.9L188.9 680.0L180.4 675.2L177.0 670.2L174.6 666.2L172.2 667.7L172.6 664.2L167.8 665.7L168.2 671.2L172.2 675.2L174.6 681.0L180.4 682.9L188.9 690.9L183.8 689.5L182.4 693.7L184.1 696.5L180.7 701.0L179.4 701.0L180.4 696.5L178.4 690.9L174.6 688.1L167.8 683.9L161.7 678.1L160.7 673.2L155.9 670.7L151.5 673.7L147.1 677.1L142.3 675.6L136.9 677.6L136.5 681.0L133.5 685.3L128.7 688.1L125.0 694.2L126.7 697.9L124.0 701.0L120.2 704.2L118.5 706.4L111.0 706.9ZM236.8 735.4L235.8 730.1L231.4 729.2L224.6 731.7L211.7 728.8L204.2 724.6L194.0 731.3L192.3 733.8L178.7 726.3L168.5 723.3L163.4 720.8L160.7 717.8L162.7 712.1L163.4 705.5L159.3 704.2L149.8 706.0L136.2 706.4L126.0 710.8L119.2 713.9L107.6 710.4L105.9 710.8L102.9 718.6L94.4 725.0L92.7 736.3L86.9 742.4L81.1 744.8L75.0 753.6L71.6 760.6L68.2 771.0L70.6 778.6L69.9 787.9L66.5 794.6L69.2 802.6L75.0 808.8L80.8 817.1L86.9 823.2L95.4 829.7L100.5 831.8L112.4 829.0L119.2 830.4L129.4 826.5L137.6 824.7L143.0 827.9L146.4 832.2L153.2 831.5L158.3 833.6L159.3 840.4L157.6 845.7L155.9 850.0L160.0 858.2L166.1 864.6L167.5 868.9L170.9 879.0L172.9 886.9L168.5 896.0L166.1 907.1L166.1 912.7L175.3 930.5L177.7 946.2L182.1 953.8L187.2 967.9L188.6 976.8L194.0 979.8L202.5 976.4L213.4 976.4L221.2 971.2L228.0 963.7L231.4 959.1L236.8 951.4L237.9 943.4L246.7 935.6L246.7 927.8L244.3 919.4L251.5 912.3L260.3 906.0L264.0 899.7L263.7 886.9L259.6 871.8L261.0 861.8L267.1 853.9L275.6 843.9L282.4 838.6L289.2 831.5L295.3 820.7L300.1 809.9L300.4 805.2L291.9 807.0L282.4 809.2L275.6 809.9L273.2 806.3L272.9 802.6L270.5 799.0L262.0 792.4L259.6 787.9L256.9 782.3L252.8 776.7L252.5 771.0L248.4 763.3L246.7 759.4L243.3 751.6L240.2 744.4ZM293.6 890.5L297.0 903.4L294.3 910.8L290.9 924.0L286.5 939.1L279.7 941.4L274.6 933.6L273.2 925.9L277.0 919.4L275.6 908.9L283.4 904.1L289.2 896.0ZM105.6 628.8L104.9 622.4L107.0 614.5L104.6 610.8L98.8 610.8L92.0 617.0L92.7 621.8L91.0 630.0L93.7 632.9L98.8 631.2ZM44.4 549.3L39.3 541.9L42.7 535.9L37.6 533.3L42.7 527.2L49.5 531.6L58.0 529.8L66.5 526.3L71.6 531.6L74.3 538.5L71.6 546.0L63.1 551.7L56.3 553.3L51.2 550.1ZM537.4 754.7L540.5 755.5L536.7 767.2L534.3 763.3ZM397.7 812.8L402.1 817.1L404.1 822.5L400.0 826.1L397.3 822.5ZM536.0 780.5L541.5 780.8L541.5 788.7L539.4 796.0L547.6 801.5L544.2 797.9L537.1 797.9L535.0 794.6L533.7 789.0ZM540.8 822.5L545.9 816.8L552.7 812.4L556.1 820.7L552.7 826.8L547.6 824.3ZM540.8 805.5L544.9 806.3L551.0 802.6L553.4 808.1L547.6 811.7L544.2 814.6L542.2 809.9ZM524.8 817.5L532.3 807.0L530.6 810.6L525.8 816.4ZM571.4 850.3L576.5 848.9L581.6 850.3L582.3 856.4L586.7 859.6L594.5 852.8L605.4 856.8L617.3 861.4L622.4 867.1L628.5 868.9L626.5 872.5L637.7 885.1L629.2 883.6L624.1 879.3L615.6 875.0L612.2 880.4L605.4 880.0L598.6 876.4L595.2 877.5L597.6 870.7L595.2 867.1L586.7 863.5L579.9 861.8L577.5 857.5L574.8 855.3L571.4 852.1ZM630.9 867.5L639.4 865.3L643.8 862.8L641.1 868.2L634.3 870.0ZM713.2 978.1L719.3 985.1L722.7 988.1L724.4 992.2L732.9 992.6L729.5 999.9L727.8 1000.8L725.1 1007.8L721.7 1010.7L720.3 1008.8L721.0 1003.1L716.9 999.9L720.0 996.2L719.6 989.5L714.2 980.7ZM713.2 1005.5L718.3 1010.2L714.2 1017.4L713.2 1020.8L708.1 1024.8L705.7 1032.4L700.6 1036.0L692.1 1032.4L697.2 1023.8L705.7 1017.4L709.1 1011.1ZM608.8 662.6L613.9 658.5L611.9 646.8L617.3 646.8L612.9 630.0L611.9 616.3L608.8 621.8L608.8 638.5L609.1 652.2ZM302.8 485.0L321.5 486.1L316.4 459.7L333.4 429.7L359.9 406.0L347.0 404.4L319.8 426.9L309.6 453.6L301.1 471.6ZM591.8 433.9L608.8 419.6L619.0 426.9L636.0 433.9L615.6 440.6L598.6 440.6ZM495.6 777.4L501.7 774.4L503.4 776.3L500.0 781.2L495.6 780.5ZM496.6 842.2L501.0 841.4L504.4 838.2L510.2 836.1L517.0 829.7L522.8 822.5L527.2 826.1L531.3 829.0L527.2 832.5L526.5 840.4L530.6 843.9L525.5 847.5L522.1 852.8L520.4 861.0L515.3 861.8L510.2 858.9L505.8 858.9L500.0 852.8L496.6 846.8ZM545.9 884.4L551.0 878.2L558.5 877.5L552.7 881.8L547.6 884.0ZM153.9 687.7L159.0 686.2L158.6 695.6L154.6 696.5ZM168.5 701.0L179.0 700.1L177.3 706.9L168.8 702.8ZM206.2 712.1L215.4 713.0L215.1 714.3L206.2 713.5ZM235.8 714.3L243.6 711.3L241.3 714.8L236.8 716.1ZM155.2 680.5L158.3 677.6L158.3 685.3L155.9 684.8ZM106.6 640.8L114.1 639.7L119.5 638.0L130.4 635.2L131.1 625.9L126.7 624.2L125.7 620.6L121.9 614.5L120.6 608.3L119.2 606.4L115.1 605.7L117.5 603.2L119.2 595.3L112.7 595.3L115.5 588.6L109.0 588.6L106.3 596.0L107.0 603.8L107.3 610.2L109.3 613.3L114.4 612.7L115.5 619.4L115.1 621.8L110.4 622.4L111.7 628.3L108.0 630.6L115.8 632.9L111.7 634.6ZM571.1 718.6L576.5 712.6L586.7 711.7L591.1 704.6L596.9 703.7L601.3 696.5L602.0 689.5L605.4 684.8L607.8 690.5L608.5 696.5L605.4 700.1L605.1 709.9L602.0 714.3L597.6 715.6L591.8 716.1L591.1 717.4L587.7 720.8L585.0 716.5L579.9 717.4L574.8 719.1ZM571.1 719.1L574.1 722.9L572.4 729.6L569.7 730.5L568.0 725.0L567.0 722.1L569.0 720.4ZM576.5 719.9L582.3 717.4L584.0 719.5L578.2 724.2ZM602.0 684.8L603.0 676.6L607.4 665.7L610.5 669.7L620.0 671.7L620.7 676.1L613.2 682.4L605.4 680.0ZM450.0 827.5L457.5 829.0L466.0 837.5L477.9 847.5L481.3 853.9L486.4 858.9L485.7 868.2L481.3 868.2L473.8 861.8L467.0 851.1L461.6 841.4L455.8 835.7L450.4 830.4ZM483.7 871.8L489.1 868.9L494.9 871.4L502.7 870.3L509.2 872.1L515.0 875.4L515.3 878.6L503.4 877.2L493.2 875.4L487.8 873.9ZM533.3 844.7L536.7 842.9L544.2 844.3L551.0 841.8L548.6 846.1L537.4 846.1L535.0 850.7L539.1 851.1L545.2 850.3L545.6 851.8L540.1 854.3L542.2 859.3L544.9 863.5L542.5 866.8L539.8 864.6L538.1 858.2L535.4 857.5L535.4 867.1L532.3 867.1L532.0 860.0L529.9 857.5L533.3 847.5ZM517.0 876.8L522.1 877.2L530.6 877.2L543.5 876.8L543.5 879.0L530.6 879.7L520.4 879.3ZM559.5 841.1L563.2 842.2L562.6 849.6L559.8 846.4ZM561.2 858.2L570.7 859.3L564.6 860.0ZM513.6 927.1L523.1 922.5L530.6 920.2L539.1 916.4L541.8 908.9L546.2 910.1L549.3 905.2L554.4 897.9L561.2 900.8L566.6 901.5L568.0 893.5L570.7 892.0L576.8 888.7L586.7 890.5L591.1 891.3L588.4 896.0L586.7 901.5L593.5 905.2L600.3 910.8L605.1 910.1L607.4 899.7L607.4 892.4L610.5 885.8L613.9 892.4L614.9 899.3L620.0 901.5L622.4 910.8L623.4 916.0L630.9 921.0L634.3 927.1L638.7 933.6L645.5 940.7L647.9 949.4L648.2 954.2L646.2 963.7L642.8 971.2L640.1 975.9L636.7 985.1L635.7 991.7L628.5 993.5L623.8 999.0L618.0 995.3L613.9 997.6L605.4 994.4L601.3 989.5L600.3 984.2L595.9 982.9L596.9 979.4L594.2 972.1L591.8 980.7L588.4 980.7L586.7 979.4L583.3 972.1L574.8 967.9L564.6 966.2L554.4 969.1L547.6 972.1L545.9 975.9L537.4 975.5L532.3 978.1L527.2 980.7L520.4 980.7L517.0 977.6L519.4 967.9L517.0 961.6L515.3 953.4L511.9 945.4L511.6 937.5L512.9 931.7ZM618.0 1006.4L624.1 1007.8L630.2 1007.3L629.2 1016.4L625.8 1020.3L622.4 1019.8L619.7 1013.5Z" fill="#dcdcdd"/><path d="M809.5 535.1L816.3 529.0L824.7 527.2L829.8 524.5L823.0 515.3L814.6 509.5L826.4 495.5L848.1 479.5L863.7 485.0L887.5 493.5L901.0 497.6L916.3 504.6L926.4 499.6L941.7 493.5L955.2 499.6L956.9 493.5L968.8 495.5L982.4 504.6L989.1 513.4L1006.1 514.3L1012.9 508.6L1023.0 507.6L1034.9 516.2L1046.8 515.3L1053.6 511.5L1055.3 498.6L1051.9 482.8L1058.6 471.6L1065.4 488.2L1068.8 498.6L1073.9 505.6L1082.4 519.9L1087.5 503.6L1090.8 495.5L1101.0 495.5L1103.4 508.6L1099.3 527.2L1085.8 527.2L1087.5 544.4L1080.7 548.5L1072.2 552.5L1063.7 564.1L1058.0 578.8L1058.6 587.9L1065.4 599.3L1079.0 603.8L1090.8 610.2L1100.0 611.4L1100.3 624.2L1106.1 634.0L1111.2 632.9L1112.2 621.2L1109.5 613.9L1118.0 605.7L1119.7 596.0L1112.9 587.2L1116.3 575.3L1114.6 561.1L1128.8 561.1L1141.7 571.6L1143.4 585.9L1150.2 590.6L1157.0 582.4L1160.3 576.0L1168.8 592.7L1172.2 605.7L1182.4 613.3L1185.8 621.2L1190.2 630.0L1185.8 633.4L1175.6 640.2L1162.0 639.7L1153.6 640.2L1146.8 646.8L1141.7 654.8L1148.5 649.0L1158.7 645.7L1161.0 650.6L1157.0 653.2L1159.3 657.4L1162.0 661.6L1170.5 663.1L1175.6 661.1L1172.2 666.2L1163.7 669.7L1155.9 674.7L1154.6 670.2L1160.3 666.2L1151.9 667.7L1145.1 672.7L1141.0 674.7L1139.3 679.5L1141.7 683.4L1136.6 685.3L1128.1 688.6L1127.5 694.2L1124.8 697.4L1122.4 703.3L1121.4 706.0L1123.1 713.0L1118.0 716.1L1112.9 719.5L1107.8 724.6L1103.7 729.2L1103.1 734.2L1106.1 742.0L1107.8 748.4L1106.8 754.3L1103.7 754.7L1101.7 750.4L1098.3 744.4L1098.6 739.5L1094.2 735.4L1089.2 736.7L1082.4 734.2L1077.3 734.2L1076.3 738.7L1070.5 738.3L1061.0 736.7L1057.0 738.7L1050.2 743.6L1048.8 751.6L1047.5 763.3L1049.2 771.0L1053.6 778.6L1058.6 781.6L1067.1 780.1L1071.2 776.7L1072.5 771.0L1080.7 768.7L1084.7 769.9L1082.4 776.7L1081.4 782.3L1079.7 786.1L1078.0 790.1L1087.5 790.5L1094.2 790.5L1097.0 793.5L1095.6 802.6L1094.9 808.1L1099.3 814.6L1104.4 816.0L1109.5 813.5L1116.6 816.4L1114.9 821.8L1112.9 817.8L1109.5 815.7L1106.1 821.4L1102.7 820.0L1098.0 818.2L1095.3 816.8L1090.8 811.7L1088.1 808.1L1082.4 800.8L1079.0 800.1L1072.2 797.5L1066.4 795.3L1060.3 789.0L1051.9 790.9L1043.4 787.6L1034.9 783.8L1027.5 779.7L1021.4 774.8L1022.0 769.1L1018.0 762.2L1011.2 754.3L1007.8 748.8L1004.4 744.0L998.3 739.5L995.9 731.3L990.2 728.4L990.2 735.4L995.9 742.4L1001.0 751.6L1004.4 758.3L1007.8 762.5L1006.1 763.7L999.3 756.7L998.3 750.8L991.9 746.8L992.5 741.6L986.8 736.3L983.4 728.0L982.0 725.0L977.3 718.6L970.2 716.5L965.8 707.3L963.7 701.9L959.3 694.2L957.3 690.0L958.3 677.6L958.6 661.6L956.3 650.0L963.7 654.8L962.0 646.8L956.9 641.3L946.8 632.9L943.4 624.2L937.3 615.1L933.2 605.7L926.4 596.0L919.7 589.3L912.9 587.2L905.1 581.0L890.8 578.8L882.4 573.1L875.6 578.8L870.5 583.8L864.4 584.5L867.1 571.6L860.3 582.4L855.2 589.3L848.5 597.3L841.7 605.7L831.5 611.4L821.3 615.1L829.8 607.0L836.6 602.5L843.4 592.7L846.8 587.2L840.0 588.6L829.8 587.9L829.8 578.8L821.3 575.3L816.3 566.4L821.3 556.4L833.2 552.5L833.2 544.4L824.7 544.4L814.6 542.7ZM1158.7 564.1L1145.1 559.6L1133.2 550.1L1116.3 546.0L1114.6 540.2L1128.1 535.9L1131.5 518.1L1118.0 510.5L1109.5 493.5L1092.5 493.5L1075.6 483.9L1074.6 469.3L1077.3 449.8L1090.8 452.3L1104.4 453.6L1107.8 468.1L1121.4 463.4L1128.1 476.1L1138.3 480.6L1148.5 493.5L1151.9 505.6L1165.4 519.9L1170.5 527.2L1163.7 540.2L1162.0 554.1ZM980.7 488.2L999.3 464.6L1012.9 457.3L1023.0 462.2L1024.7 482.8L1034.9 495.5L1031.5 505.6L1019.7 504.6L994.2 508.6L984.1 500.6ZM953.6 472.7L960.3 451.0L972.2 440.6L985.8 453.6L979.0 471.6L965.4 480.6ZM1053.6 426.9L1080.7 410.6L1107.8 426.9L1107.8 440.6L1067.1 440.6ZM1073.9 412.2L1101.0 413.7L1114.6 407.5L1124.8 379.2L1141.7 350.5L1057.0 350.5L1063.7 387.9ZM982.4 426.9L1019.7 419.6L1023.0 433.9L1006.1 440.6L985.8 436.6ZM1033.2 449.8L1050.2 449.8L1051.9 471.6L1043.4 477.3L1033.2 465.7ZM1055.3 449.8L1072.2 447.2L1073.9 459.7L1063.7 471.6L1055.3 465.7ZM1084.1 535.9L1092.5 531.6L1106.1 548.5L1095.9 560.3L1087.5 552.5L1084.1 544.4ZM1178.0 654.3L1184.1 638.5L1189.8 632.3L1190.9 641.3L1197.6 644.1L1200.3 654.8L1195.9 659.0L1189.2 658.0ZM944.1 636.9L955.2 639.7L960.7 650.0L953.6 647.9ZM855.2 597.3L862.0 591.3L862.7 597.3L856.9 601.3ZM818.0 616.3L825.4 612.7L820.3 618.2ZM807.8 621.2L814.6 618.2L811.2 623.0ZM797.6 626.5L804.4 624.2L801.0 628.3ZM928.1 617.6L932.5 619.4L934.2 628.8L929.8 624.2ZM1116.6 816.4L1118.6 818.9L1123.1 809.5L1127.5 807.0L1134.9 803.7L1135.9 803.0L1137.3 808.1L1136.3 811.7L1141.7 806.3L1142.4 803.7L1147.5 808.1L1155.3 809.5L1160.3 811.0L1167.1 809.2L1170.5 812.4L1172.9 817.1L1180.7 822.5L1185.8 826.5L1192.5 826.5L1201.0 829.7L1204.4 832.2L1209.5 841.4L1209.5 847.5L1214.6 850.0L1218.0 849.6L1228.1 855.3L1229.8 856.8L1238.3 857.8L1246.8 860.0L1251.9 863.9L1259.3 866.0L1261.0 873.2L1260.3 879.7L1253.6 886.9L1248.5 894.2L1246.8 903.4L1246.1 911.9L1243.4 919.4L1240.0 927.8L1236.6 931.3L1231.5 931.7L1226.5 934.0L1221.4 936.3L1214.6 942.6L1214.2 949.4L1211.2 955.5L1207.8 962.9L1202.0 968.7L1197.6 976.4L1192.9 980.2L1187.5 979.8L1181.7 976.4L1180.7 978.9L1185.1 982.9L1186.8 987.3L1183.7 994.4L1179.0 997.1L1168.8 998.5L1167.8 1005.5L1158.7 1007.8L1162.7 1015.0L1157.6 1019.8L1157.0 1027.3L1150.2 1032.4L1155.3 1040.2L1150.2 1048.2L1145.1 1056.5L1147.1 1066.7L1143.4 1067.9L1138.3 1075.6L1133.2 1070.8L1126.4 1065.0L1123.7 1053.7L1123.1 1042.8L1126.4 1035.0L1123.1 1036.0L1128.8 1022.3L1131.5 1011.6L1128.8 1003.1L1129.8 990.4L1132.2 982.9L1135.9 972.1L1136.6 959.6L1140.0 941.4L1140.7 931.7L1141.4 920.2L1140.3 913.8L1136.6 910.1L1124.1 903.0L1120.3 897.1L1117.3 890.5L1112.9 881.5L1108.5 872.5L1104.1 868.9L1103.4 864.3L1106.8 859.6L1108.1 855.7L1104.7 855.3L1104.7 851.1L1107.8 845.0L1111.5 842.9L1112.9 838.6L1117.3 834.0L1116.3 827.9L1117.0 823.6L1114.9 821.8ZM1146.8 1068.5L1158.0 1081.1L1153.6 1083.6L1146.8 1084.8L1138.3 1081.7L1134.9 1076.8L1140.0 1073.8ZM1091.2 767.6L1099.3 762.9L1107.8 763.3L1118.0 768.3L1124.8 772.1L1127.5 774.0L1116.3 775.2L1115.6 772.5L1112.9 769.1L1106.1 767.6L1101.0 765.6L1095.9 766.8ZM1126.8 780.1L1130.2 775.6L1134.9 775.2L1141.7 775.9L1147.1 780.1L1141.7 781.2L1135.9 783.1L1132.2 781.2ZM1113.6 780.8L1120.3 781.6L1116.3 783.1ZM1151.2 780.8L1156.6 781.2L1153.6 782.3Z" fill="#dcdcdd"/><g clip-path="url(#landL)"><path d="M221.2 582.4L220.2 596.0L221.9 604.5L231.1 608.3L231.4 615.1L237.2 621.8L233.1 629.4L241.6 628.3L247.0 639.1L255.2 641.9L262.0 643.5L261.0 653.2L255.9 656.9L250.1 665.7L251.1 672.7L262.0 675.6L272.2 676.6L277.3 679.1L283.8 682.9L288.5 686.2L291.2 683.4L294.3 670.2L292.6 661.1L290.9 652.2L285.1 650.0L285.8 641.3L291.9 638.5L298.7 631.7L307.9 634.0L313.0 637.4L324.9 635.7L335.1 636.3L330.0 630.0L333.4 619.4L348.7 614.5L360.6 610.2L367.4 617.0L375.9 619.4L386.1 617.0L390.5 622.4L398.0 636.9L408.2 635.7L416.7 643.5L422.8 645.7L430.3 642.4L438.8 637.4L449.0 641.3L459.2 630.0L472.8 633.4L473.8 638.5L489.8 642.4L503.4 645.2L515.3 640.2L522.8 642.4L526.5 644.1L530.6 641.3L535.7 627.1L539.1 622.4L552.7 624.2L559.5 641.3L569.7 647.9L571.4 653.8L584.0 650.6L578.9 667.7L572.1 677.6L570.4 681.0L578.2 684.8L602.0 663.6L622.4 677.6L670.0 652.2L704.0 630.0L778.8 578.8L778.8 493.5L738.0 350.5L245.0 350.5L238.2 488.2L230.7 495.5L224.6 503.6L222.9 511.5L228.0 516.2L224.6 523.6L228.3 534.2L227.0 541.9L229.7 546.8L233.1 557.2L226.3 569.4L220.5 575.3ZM570.0 680.5L561.9 685.3L557.5 683.4L554.4 687.7L549.0 691.9L544.2 698.8L545.9 735.4L534.0 757.5L525.5 767.2L506.8 772.9L505.1 782.3L493.2 782.3L493.9 771.0L493.2 768.7L491.2 768.3L488.4 763.7L484.0 762.2L479.3 764.9L473.5 765.6L471.8 770.2L470.1 769.1L466.0 768.7L463.3 766.8L462.3 762.5L457.8 759.8L461.6 752.0L460.9 745.2L457.2 742.4L453.1 738.7L447.6 738.3L438.8 744.4L433.7 742.8L428.3 746.4L427.9 743.6L425.5 744.0L418.4 743.6L411.6 739.9L404.8 734.6L401.7 734.6L398.7 733.0L394.6 730.5L393.9 725.0L396.3 724.2L394.3 717.4L390.5 712.1L384.1 707.3L380.3 704.6L379.3 703.7L380.7 698.8L376.9 693.7L387.1 687.7L392.9 685.3L398.7 681.5L400.7 676.6L399.0 667.7L406.5 666.2L408.2 656.4L416.7 650.6L422.8 645.7L426.9 650.6L433.7 660.0L435.4 666.7L449.0 671.2L454.1 678.6L469.4 679.5L483.0 683.4L498.3 680.0L506.1 674.2L511.9 668.7L522.1 661.1L533.3 659.0L527.2 652.2L519.7 653.2L522.1 642.4L526.5 644.1L530.6 641.3L535.7 627.1L539.1 622.4L552.7 624.2L559.5 641.3L569.7 647.9L571.4 653.8L584.0 650.6L578.9 667.7L572.1 677.6ZM357.9 760.6L367.4 757.5L364.0 749.6L364.0 743.6L370.5 743.6L375.9 735.4L379.6 731.3L379.3 725.0L377.6 722.9L376.9 716.5L387.8 712.1L390.5 712.1L394.3 717.4L396.3 724.2L393.9 725.0L394.6 730.5L398.7 733.0L401.7 734.6L398.3 740.3L409.9 746.0L417.7 749.2L425.5 750.0L425.5 744.0L427.9 743.6L428.3 746.4L428.6 748.8L438.8 748.4L438.8 744.4L447.6 738.3L453.1 738.7L457.2 742.4L455.8 746.8L449.7 751.6L447.6 755.5L445.9 759.8L443.2 759.4L442.2 767.2L440.8 767.2L439.5 761.4L436.4 763.3L436.1 759.0L440.2 755.5L431.3 754.3L427.9 750.0L425.9 752.4L425.5 757.5L428.3 768.7L426.9 774.8L408.2 793.5L400.7 806.3L396.0 813.9L392.9 818.9L386.1 820.7L370.8 804.5L364.0 774.8L355.5 765.2ZM278.3 693.3L284.1 696.9L289.2 694.2L292.3 699.2L299.4 701.0L309.6 703.3L309.3 704.2L314.7 701.0L320.5 700.1L327.6 703.3L334.1 707.3L332.0 717.4L333.1 729.2L336.1 731.3L333.1 736.3L339.5 742.8L339.5 746.8L341.2 749.2L335.4 754.7L323.2 757.5L319.1 750.4L309.6 752.4L299.4 746.4L294.3 737.5L291.2 735.9L289.2 733.4L288.5 727.1L282.4 722.9L280.7 716.5L283.1 713.5L280.0 709.9L278.3 704.6L276.6 699.2L275.6 694.6ZM244.7 737.9L248.4 738.7L253.5 735.4L255.2 733.4L251.8 729.2L258.6 726.7L263.4 727.6L268.8 730.9L278.0 738.7L284.1 739.1L288.2 741.6L290.6 741.6L296.0 745.6L297.7 753.6L298.7 756.7L300.1 757.1L301.4 759.0L304.8 763.7L313.7 764.5L315.4 767.2L313.0 774.8L302.8 778.6L291.9 781.6L285.8 786.4L273.6 784.2L272.9 787.2L271.5 788.3L265.4 786.1L255.2 767.2L246.7 749.6L243.0 743.6ZM554.7 702.4L556.8 701.9L562.6 698.3L568.0 698.3L567.7 715.2L559.5 719.1L553.7 722.9L552.7 705.5ZM447.3 825.4L460.9 831.5L467.7 838.6L476.2 843.2L479.6 843.6L483.0 842.2L498.6 840.0L501.7 844.3L506.8 842.5L512.9 842.9L516.7 839.7L519.4 832.5L525.8 832.5L532.3 833.2L537.4 831.5L556.1 830.7L564.6 836.8L578.2 842.2L605.4 851.1L605.4 881.5L598.6 883.3L571.4 879.7L559.5 881.5L540.8 888.7L517.0 881.5L483.0 876.1L466.0 860.0L452.4 842.2ZM182.1 953.8L185.2 954.2L194.0 953.0L194.0 938.7L196.7 946.6L204.2 940.7L214.1 938.3L217.8 934.0L226.0 928.6L232.4 929.4L234.5 943.0L234.8 946.6L237.9 947.0L239.9 955.5L228.0 972.1L211.0 982.9L190.6 985.1L182.1 972.1L178.7 955.5ZM150.5 622.4L149.8 627.7L146.4 631.2L146.4 636.9L146.7 640.8L147.8 644.1L153.9 646.8L151.8 654.3L158.6 654.8L170.2 654.8L172.9 648.4L167.8 640.2L174.6 635.7L177.0 635.7L176.0 629.4L174.3 624.2L174.6 618.8L168.5 614.5L160.0 612.0L159.7 613.0L155.2 612.7L153.2 615.1L149.8 618.8ZM119.9 675.6L128.4 679.1L136.5 680.5L139.6 678.1L148.1 678.1L151.5 673.9L149.5 667.2L149.8 663.1L146.7 661.6L149.5 655.4L151.8 654.3L153.9 646.8L147.8 644.1L145.7 644.1L140.3 640.8L134.5 635.2L132.8 634.6L130.1 638.0L120.9 640.8L117.5 644.1L107.3 647.9L109.0 654.8L117.5 662.6L119.2 673.7ZM106.6 640.8L114.1 639.7L119.5 638.0L130.4 635.2L131.1 625.9L126.7 624.2L125.7 620.6L121.9 614.5L120.6 608.3L119.2 606.4L115.1 605.7L117.5 603.2L119.2 595.3L112.7 595.3L115.5 588.6L109.0 588.6L106.3 596.0L107.0 603.8L107.3 610.2L109.3 613.3L114.4 612.7L115.5 619.4L115.1 621.8L110.4 622.4L111.7 628.3L108.0 630.6L115.8 632.9L111.7 634.6ZM571.1 718.6L576.5 712.6L586.7 711.7L591.1 704.6L596.9 703.7L601.3 696.5L602.0 689.5L605.4 684.8L607.8 690.5L608.5 696.5L605.4 700.1L605.1 709.9L602.0 714.3L597.6 715.6L591.8 716.1L591.1 717.4L587.7 720.8L585.0 716.5L579.9 717.4L574.8 719.1ZM571.1 719.1L574.1 722.9L572.4 729.6L569.7 730.5L568.0 725.0L567.0 722.1L569.0 720.4ZM576.5 719.9L582.3 717.4L584.0 719.5L578.2 724.2ZM602.0 684.8L603.0 676.6L607.4 665.7L610.5 669.7L620.0 671.7L620.7 676.1L613.2 682.4L605.4 680.0ZM513.6 927.1L523.1 922.5L530.6 920.2L539.1 916.4L541.8 908.9L546.2 910.1L549.3 905.2L554.4 897.9L561.2 900.8L566.6 901.5L568.0 893.5L570.7 892.0L576.8 888.7L586.7 890.5L591.1 891.3L588.4 896.0L586.7 901.5L593.5 905.2L600.3 910.8L605.1 910.1L607.4 899.7L607.4 892.4L610.5 885.8L613.9 892.4L614.9 899.3L620.0 901.5L622.4 910.8L623.4 916.0L630.9 921.0L634.3 927.1L638.7 933.6L645.5 940.7L647.9 949.4L648.2 954.2L646.2 963.7L642.8 971.2L640.1 975.9L636.7 985.1L635.7 991.7L628.5 993.5L623.8 999.0L618.0 995.3L613.9 997.6L605.4 994.4L601.3 989.5L600.3 984.2L595.9 982.9L596.9 979.4L594.2 972.1L591.8 980.7L588.4 980.7L586.7 979.4L583.3 972.1L574.8 967.9L564.6 966.2L554.4 969.1L547.6 972.1L545.9 975.9L537.4 975.5L532.3 978.1L527.2 980.7L520.4 980.7L517.0 977.6L519.4 967.9L517.0 961.6L515.3 953.4L511.9 945.4L511.6 937.5L512.9 931.7ZM618.0 1006.4L624.1 1007.8L630.2 1007.3L629.2 1016.4L625.8 1020.3L622.4 1019.8L619.7 1013.5ZM608.8 662.6L613.9 658.5L611.9 646.8L617.3 646.8L612.9 630.0L611.9 616.3L608.8 621.8L608.8 638.5L609.1 652.2ZM302.8 485.0L321.5 486.1L316.4 459.7L333.4 429.7L359.9 406.0L347.0 404.4L319.8 426.9L309.6 453.6L301.1 471.6ZM591.8 433.9L608.8 419.6L619.0 426.9L636.0 433.9L615.6 440.6L598.6 440.6ZM495.6 777.4L501.7 774.4L503.4 776.3L500.0 781.2L495.6 780.5Z" fill="#c9c9ca" stroke="#fff" stroke-width="0.7" stroke-linejoin="round"/><path d="M217.8 957.9L222.9 954.2L226.0 957.5L222.9 962.0L219.5 961.6Z" fill="#dcdcdd" stroke="#fff" stroke-width="0.6"/></g><g clip-path="url(#landR)"><path d="M956.3 650.0L961.4 650.6L961.0 646.8L1056.3 646.8L1075.6 652.2L1092.5 660.0L1099.3 666.2L1099.7 677.6L1097.3 681.5L1111.2 678.6L1111.2 676.1L1119.7 672.7L1125.8 667.7L1136.6 667.7L1140.7 663.1L1144.4 655.4L1149.2 656.9L1149.2 664.2L1151.9 668.7L1153.6 670.2L1148.5 691.9L1128.1 718.6L1111.2 745.6L1108.8 756.3L1097.6 758.3L1073.9 747.6L1057.0 759.4L1049.5 752.0L1041.7 745.6L1034.9 736.3L1029.8 739.5L1024.7 737.1L1018.0 728.0L1012.2 728.0L1012.2 730.1L1002.7 730.1L990.2 724.2L982.0 725.0L975.6 729.2L951.9 691.9L951.9 649.5ZM901.0 488.2L901.0 576.7L907.8 578.8L912.9 585.9L919.7 580.3L926.4 589.3L933.2 601.3L938.3 606.4L937.6 613.9L924.7 618.2L870.5 612.0L795.9 635.7L795.9 556.4L806.1 531.6L809.5 503.6L846.8 471.6ZM901.0 488.2L901.0 576.7L907.8 578.8L912.9 585.9L919.7 580.3L926.4 589.3L933.2 601.3L938.3 606.4L937.6 613.9L924.7 618.2L938.3 652.2L955.9 649.5L961.4 650.6L961.0 646.8L1056.3 646.8L1075.6 652.2L1092.5 660.0L1099.3 666.2L1099.7 677.6L1097.3 681.5L1111.2 678.6L1111.2 676.1L1119.7 672.7L1125.8 667.7L1136.6 667.7L1140.7 663.1L1144.4 655.4L1149.2 656.9L1149.2 664.2L1151.9 668.7L1155.3 677.6L1182.4 675.2L1209.5 657.4L1202.7 618.2L1175.6 571.6L1175.6 522.7L1134.9 412.2L1175.6 340.0L901.0 340.0ZM1204.1 832.2L1201.0 839.3L1194.2 839.7L1187.5 840.7L1179.7 843.2L1176.3 841.1L1175.6 829.0L1170.5 832.2L1166.1 833.2L1160.3 832.9L1162.0 840.4L1154.2 844.7L1151.9 841.1L1142.4 841.4L1143.7 851.1L1142.0 862.5L1132.2 865.3L1128.5 873.6L1132.2 881.1L1140.0 881.5L1139.7 886.9L1146.1 886.9L1157.6 882.6L1157.6 888.7L1168.8 896.0L1173.9 896.8L1174.9 906.3L1181.4 906.3L1184.1 912.7L1182.4 920.2L1183.1 928.2L1190.2 929.4L1194.9 935.6L1193.9 941.8L1196.6 947.4L1189.8 952.6L1183.7 960.4L1189.2 962.9L1198.0 975.1L1209.5 976.4L1226.5 943.4L1250.2 931.7L1257.0 890.5L1270.5 868.9L1250.2 852.8L1223.1 844.7L1212.9 836.8Z" fill="#c9c9ca" stroke="#fff" stroke-width="0.7" stroke-linejoin="round"/></g><path d="M292.6 660.0L301.1 657.4L306.2 660.0L306.9 666.7L299.4 670.2L297.0 671.2L301.1 676.6L304.5 679.1L305.2 684.8L309.6 687.2L306.2 691.9L308.9 696.9L309.3 705.5L302.8 707.3L296.0 703.7L292.6 699.2L293.6 695.1L294.3 689.5L292.6 685.8L287.5 677.6L285.1 670.2L287.5 664.7ZM324.9 660.0L333.4 660.0L335.1 667.7L328.3 674.7L324.2 670.2ZM478.9 632.3L484.7 630.0L494.9 619.4L500.0 607.7L496.6 608.9L489.8 624.2L481.3 630.0Z" fill="#fff"/><path d="M1042.4 619.4L1047.5 618.8L1052.5 638.5L1049.2 639.1L1044.1 630.0ZM982.4 571.6L992.5 561.9L1007.8 558.0L1001.0 566.4L987.5 573.1ZM955.2 535.9L963.7 522.7L979.0 524.5L973.9 535.9L962.0 540.2Z" fill="#fff"/><path d="M96.1 682.9L103.9 683.9L102.2 693.3L100.8 704.6M137.6 633.4L146.4 635.7M140.3 633.4L146.4 631.2M149.8 663.1L154.9 661.6L161.7 658.5L167.5 657.4L172.6 660.0L172.6 664.2M158.6 654.8L161.7 658.5M172.9 648.4L177.0 646.8L183.8 649.0L184.1 652.2L180.7 658.0L172.6 660.0M177.0 635.7L183.5 639.1L189.9 644.1L183.8 649.0M192.6 615.7L203.5 615.7L207.3 625.9L206.2 632.9L207.9 636.9L202.8 646.3L189.9 644.1M184.1 652.2L189.9 653.2L201.1 650.0L202.8 646.3M180.7 658.0L182.4 660.6L190.3 663.1L195.0 662.1L197.4 661.6L203.9 652.7L201.1 650.0M203.9 652.7L210.7 653.8L216.4 650.6L221.5 665.2L226.6 666.2M195.0 662.1L198.8 668.7L202.5 670.2L203.2 673.7L212.7 674.2L217.8 672.2L223.2 673.7M203.2 673.7L202.2 681.0L204.2 685.8L209.3 684.8L215.8 683.9L221.2 682.4M215.8 683.9L215.4 687.7M194.0 693.3L197.4 687.7L204.2 685.8M192.0 682.9L195.7 678.6L202.2 681.0M195.7 678.6L191.3 675.2L190.6 668.2L198.8 668.7M172.2 665.2L179.4 661.6L182.4 660.6M179.4 666.7L190.6 668.2M179.4 666.7L185.8 677.6M206.2 632.9L219.5 632.9L229.7 634.0L233.1 629.4M210.7 653.8L207.9 636.9M216.4 650.6L225.3 652.2L228.0 660.6M207.3 625.9L205.9 618.8L216.4 607.7L221.9 604.5M197.4 605.1L210.7 603.2L216.4 607.7M209.0 593.3L219.2 596.0M203.5 615.7L205.9 618.8M164.1 585.9L168.5 575.3L167.5 556.4L175.3 535.9L182.1 513.4L195.7 503.6L202.5 507.6L213.7 496.6L221.2 493.5L224.6 503.6M195.7 503.6L206.6 514.3L207.9 533.3M249.1 709.9L250.8 706.4L255.2 706.4L270.2 705.1L278.3 704.6M275.6 694.6L274.2 686.7L267.1 684.8M270.2 705.1L265.4 716.9L257.9 721.2L258.6 726.7M257.9 721.2L251.1 725.5L247.7 724.2M247.0 724.2L246.7 729.2L245.0 737.5M242.3 730.1L244.7 737.5M247.7 724.2L250.4 717.8L248.1 716.1M302.8 778.6L306.5 787.2M313.7 764.5L316.4 759.4L317.4 755.9M301.4 759.0L300.1 757.1M274.2 686.7L279.0 685.8L283.8 682.9M274.2 686.7L274.6 691.4L278.3 693.3M279.0 685.8L282.4 695.1L284.1 696.9M304.5 683.4L314.7 685.8L316.4 685.8L316.4 667.7L325.2 664.7L333.4 670.7L336.8 675.2L346.7 674.2L350.7 677.6L350.4 682.4L357.2 687.2L367.4 681.0L377.6 676.6L383.7 678.1L394.6 678.6L398.7 681.5M316.4 685.8L323.2 680.0L330.0 681.5L336.5 686.2L338.5 691.9L345.3 696.9L352.1 703.7M334.1 707.3L337.8 713.0L345.3 708.6L352.1 703.7L357.2 705.5L362.3 705.1L369.1 706.4L380.3 704.6M357.2 687.2L365.7 690.9L376.9 693.7M352.1 703.7L357.2 694.2L365.7 690.9M369.1 706.4L369.4 699.7L380.7 698.8M333.1 736.3L338.5 737.9L351.4 735.9L352.8 730.5L361.6 727.6L362.3 722.9L364.0 718.6L367.7 718.2L368.1 709.9L380.3 705.5M470.1 769.1L466.3 773.3L458.5 780.5L462.3 788.3L459.9 792.7L463.3 800.1L463.3 805.2L461.2 811.7M466.3 773.3L467.7 776.7L470.1 776.7L469.4 783.8L473.1 781.6L479.6 781.2L482.3 787.9L485.0 790.9L484.7 795.7L476.2 796.4L474.2 798.6L475.9 805.5M473.5 765.6L476.2 771.0L479.6 773.3L483.0 778.6L484.7 781.6L488.4 787.6L491.5 793.5L491.8 795.3L491.5 803.4L485.7 805.9L487.1 808.5L481.3 810.3M484.7 795.7L491.8 795.3M466.3 824.7L469.4 827.2L473.1 825.4M119.2 713.9L120.9 725.0L114.1 731.3L109.0 735.4L96.4 740.8L96.4 746.4M81.1 744.8L96.4 744.8M96.4 746.4L96.4 751.6L85.2 751.6L85.2 761.4L81.8 763.3L81.8 769.9L68.2 769.9M96.4 746.4L109.7 755.5L130.1 770.6L137.2 778.2L140.3 778.2L145.4 776.7L151.5 771.4L166.8 761.4M166.8 761.4L159.7 747.6L158.3 734.6L154.2 725.0L151.5 719.5L155.2 706.0M158.3 734.6L165.1 722.1M211.0 728.8L211.0 767.2L251.5 767.2M166.8 761.4L174.3 764.9L177.0 763.3L207.6 776.7L207.6 774.8L211.0 774.8L211.0 767.2M109.7 755.5L103.9 755.5L107.0 789.8L108.0 791.6L86.9 791.6L84.5 794.6L76.7 787.6L69.9 789.8M84.5 794.6L87.2 803.0L79.4 802.3L69.2 803.0M68.9 798.6L79.1 799.3M87.2 803.0L98.8 811.0M75.0 808.5L79.4 802.3M80.8 815.3L91.0 817.1L86.9 822.9M91.0 817.1L97.8 820.7L100.5 831.8M97.8 820.7L98.8 811.0L107.3 810.3L116.5 808.1L126.0 808.1L138.2 805.5M116.5 829.7L116.5 808.1M130.1 825.7L126.0 808.1M131.4 825.4L129.4 811.7L129.1 808.1M135.2 824.7L138.2 805.5M107.3 810.3L112.4 799.0L124.3 793.5L126.7 793.8L138.2 805.5M126.7 793.8L137.9 791.6L140.3 789.8L140.3 778.2M138.2 805.5L139.6 799.0L149.8 800.8L171.9 798.6L173.6 800.8L170.9 811.7L165.1 823.2L155.2 830.4M173.6 800.8L178.7 786.4L177.0 774.8L177.0 763.3M207.6 776.7L207.6 790.9L202.5 801.9L203.9 808.1L189.2 818.9L178.7 820.7M173.6 800.8L177.7 811.7L178.7 820.7L175.3 829.7L181.1 839.7M159.3 839.3L171.2 839.7L181.1 839.7M171.2 839.7L175.3 849.3L175.0 854.6L164.1 861.4M159.3 843.9L164.4 843.9L164.4 839.7M181.1 839.7L189.2 835.0L202.5 832.9L219.2 829.3M189.2 835.0L186.5 849.3L181.1 856.4L178.0 862.8L170.2 864.3L167.5 868.2M203.9 808.1L207.6 816.4L219.2 829.3L231.4 834.3L241.6 832.5L248.1 831.1M207.6 816.4L221.2 813.5L238.2 811.7L241.6 813.5M241.6 813.5L238.2 818.9L245.0 827.9L248.1 831.1M241.6 813.5L245.0 802.6L250.1 796.0L251.8 786.1L256.9 782.3M250.1 796.0L262.0 795.3L270.2 802.6L272.5 801.9M270.2 802.6L268.1 808.1L271.5 808.1L273.2 806.3M271.5 808.1L272.2 813.5L279.0 816.4L289.2 818.9L279.0 829.7L268.8 832.5L265.4 833.6L265.4 850.3L267.4 853.6M248.1 831.1L255.2 834.7L265.4 833.6M241.6 832.5L243.6 843.9L241.6 851.1L253.8 858.2L259.3 864.3M231.4 834.3L228.0 845.7L226.6 852.5L229.7 856.0L226.0 863.5L226.6 870.7L230.7 877.2M226.6 852.5L229.7 851.1L241.6 851.1M230.7 877.2L237.9 881.1L241.6 881.5L243.6 889.1L255.2 888.0L263.4 885.1M167.5 868.2L170.2 868.5L182.4 868.5L183.8 873.6L192.3 872.5L200.1 873.6L200.8 886.9L207.6 886.9L207.6 894.2L200.8 894.2L200.8 906.0L205.6 911.2M166.1 910.1L173.6 910.4L188.6 910.4L205.6 911.2L212.0 911.9M207.6 886.9L217.8 890.5L224.6 895.7L222.6 890.5L226.3 891.3L223.2 879.7L230.7 877.2M212.0 911.9L217.8 912.7L224.3 905.2L229.4 903.7L228.7 900.8L238.2 897.9L237.9 881.1M243.6 889.1L244.7 896.0L248.1 905.2L246.0 909.3L242.6 899.3L238.2 897.9M229.4 903.7L238.2 907.8L237.9 916.4L232.4 929.4M212.0 911.9L219.5 922.1L226.0 928.6M194.0 938.7L194.0 927.8L197.4 927.8L197.4 913.8L205.6 911.2M234.5 943.0L231.4 942.6L230.7 946.6L234.8 946.6M1137.3 805.2L1133.2 815.3L1134.9 822.5L1150.2 825.4L1151.9 841.1M1175.6 817.1L1172.2 823.6L1175.6 829.0M1185.1 826.5L1182.4 833.2L1187.5 840.7M1195.9 826.8L1194.2 839.7M1111.5 842.9L1118.0 846.4L1123.7 847.9L1131.5 855.7L1141.7 857.1L1142.0 862.5M1106.8 859.6L1111.2 865.3L1113.6 859.6L1123.1 854.6L1123.7 847.9M1146.1 886.9L1145.1 894.2L1145.1 903.4L1143.4 910.8L1140.3 913.8M1143.4 910.8L1146.8 918.3L1147.8 925.9L1151.2 930.9L1158.7 928.2L1166.4 928.6L1169.5 919.1L1179.0 917.6L1182.4 920.2M1166.4 928.6L1182.4 939.5L1183.4 940.7L1180.3 948.2L1189.2 948.6L1193.9 941.8M1151.2 930.9L1147.1 937.5L1146.8 947.4L1141.7 959.6L1141.7 972.1L1140.0 985.1L1137.6 998.5L1135.6 1012.6L1136.6 1027.3L1133.2 1048.2L1133.9 1059.3L1147.1 1066.7M1183.7 960.4L1181.7 972.1L1181.0 976.4M1146.4 1069.1L1146.4 1082.3M1066.4 795.3L1066.4 792.4L1069.2 789.4L1072.5 789.4L1070.5 785.3L1076.6 783.1L1079.7 780.5M1076.6 783.1L1076.6 790.1M1080.0 790.9L1076.3 795.7L1073.6 797.9M1076.3 795.7L1081.4 799.3M1082.7 800.8L1087.5 797.9L1092.5 794.6L1097.0 793.5M1088.5 807.7L1095.3 808.5M1098.0 818.2L1099.0 813.5M1135.9 775.9L1135.9 783.1" fill="none" stroke="#fff" stroke-width="0.7" stroke-linejoin="round"/></g><path d="M209.3 506V568.3L155.7 621.7" fill="none" stroke="#231815" stroke-width="1.5" stroke-linejoin="miter"/><circle cx="155.7" cy="621.7" r="5.3" fill="#231815"/><path d="M114 588V621.7" fill="none" stroke="#231815" stroke-width="1.5" stroke-linejoin="miter"/><circle cx="114" cy="621.7" r="5.3" fill="#231815"/><path d="M135 661.7L154 680V700" fill="none" stroke="#231815" stroke-width="1.5" stroke-linejoin="miter"/><circle cx="135" cy="661.7" r="5.3" fill="#231815"/><path d="M292.3 691V718.3" fill="none" stroke="#231815" stroke-width="1.5" stroke-linejoin="miter"/><circle cx="292.3" cy="718.3" r="5.3" fill="#231815"/><path d="M284 776.7L237.3 820.7" fill="none" stroke="#231815" stroke-width="1.5" stroke-linejoin="miter"/><circle cx="284" cy="776.7" r="5.3" fill="#231815"/><path d="M170 965.7H191" fill="none" stroke="#231815" stroke-width="1.5" stroke-linejoin="miter"/><circle cx="191" cy="965.7" r="5.3" fill="#231815"/><path d="M848.5 548.3H634L561.7 620V700" fill="none" stroke="#231815" stroke-width="1.5" stroke-linejoin="miter"/><circle cx="561.7" cy="700" r="5.3" fill="#231815"/><path d="M890 661.7H605V700" fill="none" stroke="#231815" stroke-width="1.5" stroke-linejoin="miter"/><circle cx="604.5" cy="701" r="5.3" fill="#231815"/><path d="M414 914.3H472.7V890" fill="none" stroke="#231815" stroke-width="2.6" stroke-linejoin="miter"/><rect x="456.7" y="839" width="151.6" height="51" rx="15" fill="none" stroke="#231815" stroke-width="2.6"/><defs><linearGradient id="bg" x1="0" y1="0" x2="0" y2="1"><stop offset="0" stop-color="#7d6ca8"/><stop offset="0.55" stop-color="#b9a3c4"/><stop offset="1" stop-color="#dfd0dc"/></linearGradient></defs><path d="M650.5 377V957" stroke="#9a9a9a" stroke-width="1" fill="none"/><path d="M650.5 406.5H703.3" stroke="#9a9a9a" stroke-width="0.9" fill="none"/><text x="643.0" y="409.8" font-size="9.5" fill="#444" text-anchor="end" textLength="22.0" lengthAdjust="spacingAndGlyphs">50000</text><path d="M650.5 516.5H703.3" stroke="#9a9a9a" stroke-width="0.9" fill="none"/><text x="643.0" y="519.8" font-size="9.5" fill="#444" text-anchor="end" textLength="22.0" lengthAdjust="spacingAndGlyphs">40000</text><path d="M650.5 626.5H703.3" stroke="#9a9a9a" stroke-width="0.9" fill="none"/><text x="643.0" y="629.8" font-size="9.5" fill="#444" text-anchor="end" textLength="22.0" lengthAdjust="spacingAndGlyphs">30000</text><path d="M650.5 736.5H871.7" stroke="#9a9a9a" stroke-width="0.9" fill="none"/><text x="643.0" y="739.8" font-size="9.5" fill="#444" text-anchor="end" textLength="22.0" lengthAdjust="spacingAndGlyphs">20000</text><path d="M650.5 846.5H871.7" stroke="#9a9a9a" stroke-width="0.9" fill="none"/><text x="643.0" y="849.8" font-size="9.5" fill="#444" text-anchor="end" textLength="22.0" lengthAdjust="spacingAndGlyphs">10000</text><text x="642.5" y="959.3" font-size="9.5" fill="#444" text-anchor="end">0</text><text x="629.3" y="971.8" font-size="10" fill="#444" textLength="20.0" lengthAdjust="spacingAndGlyphs">単位</text><text x="629.3" y="982.5" font-size="10.5" fill="#444" textLength="20.0" lengthAdjust="spacingAndGlyphs">kWh</text><rect x="655.6" y="400.6" width="31.6" height="555.9" fill="url(#bg)"/><rect x="691.6" y="702.7" width="31.6" height="253.8" fill="url(#bg)"/><rect x="831.6" y="710.6" width="31.6" height="245.9" fill="url(#bg)"/><rect x="867.6" y="793.2" width="31.6" height="163.3" fill="url(#bg)"/><rect x="903.6" y="825.7" width="31.6" height="130.8" fill="url(#bg)"/><rect x="939.6" y="876.7" width="31.6" height="79.8" fill="url(#bg)"/><rect x="975.6" y="880.1" width="31.6" height="76.4" fill="url(#bg)"/><rect x="1011.6" y="914.5" width="31.6" height="42.0" fill="url(#bg)"/><rect x="1047.6" y="923.5" width="31.6" height="33.0" fill="url(#bg)"/><rect x="1083.6" y="930.4" width="31.6" height="26.1" fill="url(#bg)"/><rect x="1119.6" y="942.5" width="31.6" height="14.0" fill="url(#bg)"/><rect x="1155.6" y="947.5" width="31.6" height="9.0" fill="url(#bg)"/><rect x="1191.6" y="949.5" width="31.6" height="7.0" fill="url(#bg)"/><rect x="1227.6" y="952.0" width="31.6" height="4.5" fill="url(#bg)"/><rect x="1263.6" y="953.0" width="31.6" height="3.5" fill="url(#bg)"/><rect x="1299.6" y="954.5" width="31.6" height="2.0" fill="url(#bg)"/><rect x="1335.6" y="955.5" width="31.6" height="1.0" fill="url(#bg)"/><path d="M650 956.8H1367" stroke="#9c9c9c" stroke-width="1.6" fill="none"/><text x="671.3" y="897.4" font-size="14.5" fill="#1a1a1a" text-anchor="middle" font-weight="bold">1</text><text x="671.3" y="921.7" font-size="11.5" fill="#222" text-anchor="middle" textLength="32.0" lengthAdjust="spacingAndGlyphs">50,533</text><text transform="translate(671.3 966.1) scale(1 0.951)" x="0" y="4.1" text-anchor="middle" font-size="11.5" fill="#1a1a1a" font-weight="bold">ア</text><text transform="translate(671.3 976.8) scale(1 0.951)" x="0" y="4.1" text-anchor="middle" font-size="11.5" fill="#1a1a1a" font-weight="bold">イ</text><text transform="translate(671.3 987.5) scale(1 0.951)" x="0" y="4.1" text-anchor="middle" font-size="11.5" fill="#1a1a1a" font-weight="bold">ス</text><text transform="translate(671.3 998.2) scale(1 0.951)" x="0" y="4.1" text-anchor="middle" font-size="11.5" fill="#1a1a1a" font-weight="bold">ラ</text><text transform="translate(671.3 1008.9) scale(1 0.951)" x="0" y="4.1" text-anchor="middle" font-size="11.5" fill="#1a1a1a" font-weight="bold">ン</text><text transform="translate(671.3 1019.6) scale(1 0.951)" x="0" y="4.1" text-anchor="middle" font-size="11.5" fill="#1a1a1a" font-weight="bold">ド</text><text x="707.3" y="897.4" font-size="14.5" fill="#1a1a1a" text-anchor="middle" font-weight="bold">2</text><text x="707.3" y="942.3" font-size="11.5" fill="#222" text-anchor="middle" textLength="32.0" lengthAdjust="spacingAndGlyphs">23,071</text><text transform="translate(707.3 966.0) scale(1 0.940)" x="0" y="4.1" text-anchor="middle" font-size="11.5" fill="#1a1a1a" font-weight="bold">ノ</text><text transform="translate(707.3 976.6) scale(1 0.940)" x="0" y="4.1" text-anchor="middle" font-size="11.5" fill="#1a1a1a" font-weight="bold">ル</text><text transform="translate(707.3 987.2) scale(1 0.940)" x="0" y="4.1" text-anchor="middle" font-size="11.5" fill="#1a1a1a" font-weight="bold">ウ</text><text transform="translate(707.3 997.8) scale(1 0.940)" x="1.2" y="3.1" text-anchor="middle" font-size="11.5" fill="#1a1a1a" font-weight="bold">ェ</text><text transform="translate(707.3 1008.4) rotate(90)" x="0" y="4.1" text-anchor="middle" font-size="11.5" fill="#1a1a1a" font-weight="bold">ー</text><text x="847.3" y="897.4" font-size="14.5" fill="#1a1a1a" text-anchor="middle" font-weight="bold">3</text><text x="847.3" y="923.3" font-size="11.5" fill="#222" text-anchor="middle" textLength="32.0" lengthAdjust="spacingAndGlyphs">22,355</text><text transform="translate(847.3 966.1) scale(1 0.958)" x="0" y="4.1" text-anchor="middle" font-size="11.5" fill="#1a1a1a" font-weight="bold">バ</text><text transform="translate(847.3 976.9) rotate(90)" x="0" y="4.1" text-anchor="middle" font-size="11.5" fill="#1a1a1a" font-weight="bold">ー</text><text transform="translate(847.3 987.7) scale(1 0.958)" x="0" y="4.1" text-anchor="middle" font-size="11.5" fill="#1a1a1a" font-weight="bold">レ</text><text transform="translate(847.3 998.5) rotate(90)" x="0" y="4.1" text-anchor="middle" font-size="11.5" fill="#1a1a1a" font-weight="bold">ー</text><text transform="translate(847.3 1009.3) scale(1 0.958)" x="0" y="4.1" text-anchor="middle" font-size="11.5" fill="#1a1a1a" font-weight="bold">ン</text><text x="883.3" y="897.4" font-size="14.5" fill="#1a1a1a" text-anchor="middle" font-weight="bold">6</text><text x="883.3" y="944.0" font-size="11.5" fill="#222" text-anchor="middle" textLength="32.0" lengthAdjust="spacingAndGlyphs">14,844</text><text transform="translate(883.3 965.0) scale(1 0.768)" x="0" y="4.1" text-anchor="middle" font-size="11.5" fill="#1a1a1a" font-weight="bold">ア</text><text transform="translate(883.3 973.7) scale(1 0.768)" x="0" y="4.1" text-anchor="middle" font-size="11.5" fill="#1a1a1a" font-weight="bold">ラ</text><text transform="translate(883.3 982.4) scale(1 0.768)" x="0" y="4.1" text-anchor="middle" font-size="11.5" fill="#1a1a1a" font-weight="bold">ブ</text><text transform="translate(883.3 991.0) scale(1 0.768)" x="0" y="4.1" text-anchor="middle" font-size="11.5" fill="#1a1a1a" font-weight="bold">首</text><text transform="translate(883.3 999.7) scale(1 0.768)" x="0" y="4.1" text-anchor="middle" font-size="11.5" fill="#1a1a1a" font-weight="bold">長</text><text transform="translate(883.3 1008.3) scale(1 0.768)" x="0" y="4.1" text-anchor="middle" font-size="11.5" fill="#1a1a1a" font-weight="bold">国</text><text transform="translate(883.3 1017.0) scale(1 0.768)" x="0" y="4.1" text-anchor="middle" font-size="11.5" fill="#1a1a1a" font-weight="bold">連</text><text transform="translate(883.3 1025.7) scale(1 0.768)" x="0" y="4.1" text-anchor="middle" font-size="11.5" fill="#1a1a1a" font-weight="bold">合</text><text x="919.3" y="897.4" font-size="14.5" fill="#1a1a1a" text-anchor="middle" font-weight="bold">9</text><text x="919.3" y="923.3" font-size="11.5" fill="#222" text-anchor="middle" textLength="32.0" lengthAdjust="spacingAndGlyphs">11,892</text><text transform="translate(919.3 966.1) scale(1 0.960)" x="0" y="4.1" text-anchor="middle" font-size="11.5" fill="#1a1a1a" font-weight="bold">ア</text><text transform="translate(919.3 976.9) scale(1 0.960)" x="0" y="4.1" text-anchor="middle" font-size="11.5" fill="#1a1a1a" font-weight="bold">メ</text><text transform="translate(919.3 987.8) scale(1 0.960)" x="0" y="4.1" text-anchor="middle" font-size="11.5" fill="#1a1a1a" font-weight="bold">リ</text><text transform="translate(919.3 998.6) scale(1 0.960)" x="0" y="4.1" text-anchor="middle" font-size="11.5" fill="#1a1a1a" font-weight="bold">カ</text><text x="955.3" y="897.4" font-size="14.5" fill="#1a1a1a" text-anchor="middle" textLength="15.5" lengthAdjust="spacingAndGlyphs" font-weight="bold">29</text><text x="955.3" y="944.0" font-size="11.5" fill="#222" text-anchor="middle" textLength="26.5" lengthAdjust="spacingAndGlyphs">7,259</text><text transform="translate(955.3 966.4) scale(1 1.000)" x="0" y="4.1" text-anchor="middle" font-size="11.5" fill="#1a1a1a" font-weight="bold">日</text><text transform="translate(955.3 977.7) scale(1 1.000)" x="0" y="4.1" text-anchor="middle" font-size="11.5" fill="#1a1a1a" font-weight="bold">本</text><text x="991.3" y="897.4" font-size="14.5" fill="#1a1a1a" text-anchor="middle" textLength="15.5" lengthAdjust="spacingAndGlyphs" font-weight="bold">32</text><text x="991.3" y="923.3" font-size="11.5" fill="#222" text-anchor="middle" textLength="26.5" lengthAdjust="spacingAndGlyphs">6,949</text><text transform="translate(991.3 965.9) scale(1 0.917)" x="0" y="4.1" text-anchor="middle" font-size="11.5" fill="#1a1a1a" font-weight="bold">ロ</text><text transform="translate(991.3 976.2) scale(1 0.917)" x="0" y="4.1" text-anchor="middle" font-size="11.5" fill="#1a1a1a" font-weight="bold">シ</text><text transform="translate(991.3 986.5) scale(1 0.917)" x="0" y="4.1" text-anchor="middle" font-size="11.5" fill="#1a1a1a" font-weight="bold">ア</text><text x="1027.3" y="897.4" font-size="14.5" fill="#1a1a1a" text-anchor="middle" textLength="15.5" lengthAdjust="spacingAndGlyphs" font-weight="bold">77</text><text x="1027.3" y="944.0" font-size="11.5" fill="#222" text-anchor="middle" textLength="26.5" lengthAdjust="spacingAndGlyphs">3,817</text><text transform="translate(1027.3 966.0) scale(1 0.945)" x="0" y="4.1" text-anchor="middle" font-size="11.5" fill="#1a1a1a" font-weight="bold">イ</text><text transform="translate(1027.3 976.7) scale(1 0.945)" x="0" y="4.1" text-anchor="middle" font-size="11.5" fill="#1a1a1a" font-weight="bold">ギ</text><text transform="translate(1027.3 987.3) scale(1 0.945)" x="0" y="4.1" text-anchor="middle" font-size="11.5" fill="#1a1a1a" font-weight="bold">リ</text><text transform="translate(1027.3 998.0) scale(1 0.945)" x="0" y="4.1" text-anchor="middle" font-size="11.5" fill="#1a1a1a" font-weight="bold">ス</text><text x="1063.3" y="897.4" font-size="14.5" fill="#1a1a1a" text-anchor="middle" textLength="15.5" lengthAdjust="spacingAndGlyphs" font-weight="bold">90</text><text x="1063.3" y="921.5" font-size="11.5" fill="#222" text-anchor="middle" textLength="26.5" lengthAdjust="spacingAndGlyphs">3,002</text><text transform="translate(1063.3 965.7) scale(1 0.887)" x="0" y="4.1" text-anchor="middle" font-size="11.5" fill="#1a1a1a" font-weight="bold">タ</text><text transform="translate(1063.3 975.7) scale(1 0.887)" x="0" y="4.1" text-anchor="middle" font-size="11.5" fill="#1a1a1a" font-weight="bold">イ</text><text x="1099.3" y="897.4" font-size="14.5" fill="#1a1a1a" text-anchor="middle" textLength="23.0" lengthAdjust="spacingAndGlyphs" font-weight="bold">105</text><text x="1099.3" y="944.0" font-size="11.5" fill="#222" text-anchor="middle" textLength="26.5" lengthAdjust="spacingAndGlyphs">2,369</text><text transform="translate(1099.3 966.1) scale(1 0.963)" x="0" y="4.1" text-anchor="middle" font-size="11.5" fill="#1a1a1a" font-weight="bold">ウ</text><text transform="translate(1099.3 977.0) scale(1 0.963)" x="0" y="4.1" text-anchor="middle" font-size="11.5" fill="#1a1a1a" font-weight="bold">ク</text><text transform="translate(1099.3 987.9) scale(1 0.963)" x="0" y="4.1" text-anchor="middle" font-size="11.5" fill="#1a1a1a" font-weight="bold">ラ</text><text transform="translate(1099.3 998.7) scale(1 0.963)" x="0" y="4.1" text-anchor="middle" font-size="11.5" fill="#1a1a1a" font-weight="bold">イ</text><text transform="translate(1099.3 1009.6) scale(1 0.963)" x="0" y="4.1" text-anchor="middle" font-size="11.5" fill="#1a1a1a" font-weight="bold">ナ</text><text x="1135.3" y="897.4" font-size="14.5" fill="#1a1a1a" text-anchor="middle" textLength="23.0" lengthAdjust="spacingAndGlyphs" font-weight="bold">148</text><text x="1135.3" y="940.7" font-size="11.5" fill="#222" text-anchor="middle" textLength="17.5" lengthAdjust="spacingAndGlyphs">850</text><text transform="translate(1135.3 966.1) scale(1 0.964)" x="0" y="4.1" text-anchor="middle" font-size="11.5" fill="#1a1a1a" font-weight="bold">北</text><text transform="translate(1135.3 977.0) scale(1 0.964)" x="0" y="4.1" text-anchor="middle" font-size="11.5" fill="#1a1a1a" font-weight="bold">朝</text><text transform="translate(1135.3 987.9) scale(1 0.964)" x="0" y="4.1" text-anchor="middle" font-size="11.5" fill="#1a1a1a" font-weight="bold">鮮</text><text x="1171.3" y="897.4" font-size="14.5" fill="#1a1a1a" text-anchor="middle" textLength="23.0" lengthAdjust="spacingAndGlyphs" font-weight="bold">157</text><text x="1171.3" y="943.3" font-size="11.5" fill="#222" text-anchor="middle" textLength="17.5" lengthAdjust="spacingAndGlyphs">658</text><text transform="translate(1171.3 965.9) scale(1 0.917)" x="0" y="4.1" text-anchor="middle" font-size="11.5" fill="#1a1a1a" font-weight="bold">シ</text><text transform="translate(1171.3 976.2) scale(1 0.917)" x="0" y="4.1" text-anchor="middle" font-size="11.5" fill="#1a1a1a" font-weight="bold">リ</text><text transform="translate(1171.3 986.5) scale(1 0.917)" x="0" y="4.1" text-anchor="middle" font-size="11.5" fill="#1a1a1a" font-weight="bold">ア</text><text x="1207.3" y="897.4" font-size="14.5" fill="#1a1a1a" text-anchor="middle" textLength="23.0" lengthAdjust="spacingAndGlyphs" font-weight="bold">167</text><text x="1207.3" y="945.7" font-size="11.5" fill="#222" text-anchor="middle" textLength="17.5" lengthAdjust="spacingAndGlyphs">436</text><text transform="translate(1207.3 965.8) scale(1 0.905)" x="0" y="4.1" text-anchor="middle" font-size="11.5" fill="#1a1a1a" font-weight="bold">ミ</text><text transform="translate(1207.3 976.0) scale(1 0.905)" x="1.2" y="3.1" text-anchor="middle" font-size="11.5" fill="#1a1a1a" font-weight="bold">ャ</text><text transform="translate(1207.3 986.2) scale(1 0.905)" x="0" y="4.1" text-anchor="middle" font-size="11.5" fill="#1a1a1a" font-weight="bold">ン</text><text transform="translate(1207.3 996.4) scale(1 0.905)" x="0" y="4.1" text-anchor="middle" font-size="11.5" fill="#1a1a1a" font-weight="bold">マ</text><text transform="translate(1207.3 1006.6) rotate(90)" x="0" y="4.1" text-anchor="middle" font-size="11.5" fill="#1a1a1a" font-weight="bold">ー</text><text x="1243.3" y="897.4" font-size="14.5" fill="#1a1a1a" text-anchor="middle" textLength="23.0" lengthAdjust="spacingAndGlyphs" font-weight="bold">173</text><text x="1243.3" y="948.0" font-size="11.5" fill="#222" text-anchor="middle" textLength="17.5" lengthAdjust="spacingAndGlyphs">330</text><text transform="translate(1243.3 966.0) scale(1 0.945)" x="0" y="4.1" text-anchor="middle" font-size="11.5" fill="#1a1a1a" font-weight="bold">ネ</text><text transform="translate(1243.3 976.7) scale(1 0.945)" x="0" y="4.1" text-anchor="middle" font-size="11.5" fill="#1a1a1a" font-weight="bold">パ</text><text transform="translate(1243.3 987.3) rotate(90)" x="0" y="4.1" text-anchor="middle" font-size="11.5" fill="#1a1a1a" font-weight="bold">ー</text><text transform="translate(1243.3 998.0) scale(1 0.945)" x="0" y="4.1" text-anchor="middle" font-size="11.5" fill="#1a1a1a" font-weight="bold">ル</text><text x="1279.3" y="897.4" font-size="14.5" fill="#1a1a1a" text-anchor="middle" textLength="23.0" lengthAdjust="spacingAndGlyphs" font-weight="bold">183</text><text x="1279.3" y="949.7" font-size="11.5" fill="#222" text-anchor="middle" textLength="17.5" lengthAdjust="spacingAndGlyphs">181</text><text transform="translate(1279.3 965.9) scale(1 0.917)" x="0" y="4.1" text-anchor="middle" font-size="11.5" fill="#1a1a1a" font-weight="bold">ケ</text><text transform="translate(1279.3 976.2) scale(1 0.917)" x="0" y="4.1" text-anchor="middle" font-size="11.5" fill="#1a1a1a" font-weight="bold">ニ</text><text transform="translate(1279.3 986.5) scale(1 0.917)" x="0" y="4.1" text-anchor="middle" font-size="11.5" fill="#1a1a1a" font-weight="bold">ア</text><text x="1315.3" y="897.4" font-size="14.5" fill="#1a1a1a" text-anchor="middle" textLength="23.0" lengthAdjust="spacingAndGlyphs" font-weight="bold">200</text><text x="1315.3" y="951.3" font-size="11.5" fill="#222" text-anchor="middle" textLength="11.5" lengthAdjust="spacingAndGlyphs">65</text><text transform="translate(1315.3 966.0) scale(1 0.945)" x="0" y="4.1" text-anchor="middle" font-size="11.5" fill="#1a1a1a" font-weight="bold">イ</text><text transform="translate(1315.3 976.7) scale(1 0.945)" x="0" y="4.1" text-anchor="middle" font-size="11.5" fill="#1a1a1a" font-weight="bold">エ</text><text transform="translate(1315.3 987.3) scale(1 0.945)" x="0" y="4.1" text-anchor="middle" font-size="11.5" fill="#1a1a1a" font-weight="bold">メ</text><text transform="translate(1315.3 998.0) scale(1 0.945)" x="0" y="4.1" text-anchor="middle" font-size="11.5" fill="#1a1a1a" font-weight="bold">ン</text><text x="1351.3" y="897.4" font-size="14.5" fill="#1a1a1a" text-anchor="middle" textLength="23.0" lengthAdjust="spacingAndGlyphs" font-weight="bold">210</text><text x="1351.3" y="951.3" font-size="11.5" fill="#222" text-anchor="middle" textLength="11.5" lengthAdjust="spacingAndGlyphs">15</text><text transform="translate(1351.3 965.6) scale(1 0.872)" x="0" y="4.1" text-anchor="middle" font-size="11.5" fill="#1a1a1a" font-weight="bold">チ</text><text transform="translate(1351.3 975.5) scale(1 0.872)" x="1.2" y="3.1" text-anchor="middle" font-size="11.5" fill="#1a1a1a" font-weight="bold">ャ</text><text transform="translate(1351.3 985.3) scale(1 0.872)" x="0" y="4.1" text-anchor="middle" font-size="11.5" fill="#1a1a1a" font-weight="bold">ド</text><path d="M1379 892.3L1389 887V897.6Z" fill="#1a1a1a"/><path d="M1379 941.7L1389 936.4V947Z" fill="#1a1a1a"/><text transform="translate(1398.3 859.0) scale(1 1.000)" x="0" y="4.1" text-anchor="middle" font-size="11.5" fill="#333">世</text><text transform="translate(1398.3 870.5) scale(1 1.000)" x="0" y="4.1" text-anchor="middle" font-size="11.5" fill="#333">界</text><text transform="translate(1398.3 882.0) scale(1 1.000)" x="0" y="4.1" text-anchor="middle" font-size="11.5" fill="#333">で</text><text transform="translate(1398.3 893.5) scale(1 1.000)" x="0" y="4.1" text-anchor="middle" font-size="11.5" fill="#333">の</text><text transform="translate(1398.3 905.0) scale(1 1.000)" x="0" y="4.1" text-anchor="middle" font-size="11.5" fill="#333">順</text><text transform="translate(1398.3 916.5) scale(1 1.000)" x="0" y="4.1" text-anchor="middle" font-size="11.5" fill="#333">位</text><text transform="translate(1398.3 937.6) scale(1 1.000)" x="0" y="4.1" text-anchor="middle" font-size="11.5" fill="#333">消</text><text transform="translate(1398.3 949.5) scale(1 1.000)" x="0" y="4.1" text-anchor="middle" font-size="11.5" fill="#333">費</text><text transform="translate(1398.3 961.4) scale(1 1.000)" x="0" y="4.1" text-anchor="middle" font-size="11.5" fill="#333">量</text><path d="M1325.5 442.3A122.2 122.2 0 1 1 1253.7 663.4L1259.7 655.1A112.0 112.0 0 1 0 1325.5 452.5Z" fill="#e7380d"/><path d="M1324 686V701.7H1337" fill="none" stroke="#e7380d" stroke-width="1.1"/><g stroke="#231815" stroke-width="0.7" stroke-linejoin="round"><path d="M209.3 454.3L209.30 401.30A53 53 0 0 1 212.63 401.40Z" fill="#7d4f22"/><path d="M209.3 454.3L212.63 401.40A53 53 0 0 1 254.23 426.18Z" fill="#9b67ad"/><path d="M209.3 454.3L254.23 426.18A53 53 0 0 1 237.70 499.05Z" fill="#231815"/><path d="M209.3 454.3L237.70 499.05A53 53 0 0 1 233.66 501.37Z" fill="#f5a42f"/><path d="M209.3 454.3L233.66 501.37A53 53 0 0 1 221.83 505.80Z" fill="#b1e0f8"/><path d="M209.3 454.3L221.83 505.80A53 53 0 0 1 194.19 403.50Z" fill="#8cc656"/><path d="M209.3 454.3L194.19 403.50A53 53 0 0 1 209.30 401.30Z" fill="#d9d9da"/><circle cx="209.3" cy="454.3" r="19.5" fill="#fff"/></g><g stroke="#231815" stroke-width="0.7" stroke-linejoin="round"><path d="M110.8 548.0L110.80 508.00A40 40 0 0 1 112.81 508.05Z" fill="#7d4f22"/><path d="M110.8 548.0L112.81 508.05A40 40 0 0 1 143.01 571.71Z" fill="#9b67ad"/><path d="M110.8 548.0L143.01 571.71A40 40 0 0 1 141.13 574.07Z" fill="#231815"/><path d="M110.8 548.0L141.13 574.07A40 40 0 0 1 109.29 587.97Z" fill="#f5a42f"/><path d="M110.8 548.0L109.29 587.97A40 40 0 0 1 104.79 587.55Z" fill="#b1e0f8"/><path d="M110.8 548.0L104.79 587.55A40 40 0 0 1 105.54 508.35Z" fill="#8cc656"/><path d="M110.8 548.0L105.54 508.35A40 40 0 0 1 110.80 508.00Z" fill="#d9d9da"/><circle cx="110.8" cy="548" r="18" fill="#fff"/></g><g stroke="#231815" stroke-width="0.7" stroke-linejoin="round"><path d="M289.5 635.0L289.50 578.00A57 57 0 0 1 313.77 583.42Z" fill="#7d4f22"/><path d="M289.5 635.0L313.77 583.42A57 57 0 1 1 260.48 585.94Z" fill="#9b67ad"/><path d="M289.5 635.0L260.48 585.94A57 57 0 0 1 261.41 585.40Z" fill="#231815"/><path d="M289.5 635.0L261.41 585.40A57 57 0 0 1 266.86 582.69Z" fill="#f5a42f"/><path d="M289.5 635.0L266.86 582.69A57 57 0 0 1 287.35 578.04Z" fill="#b1e0f8"/><path d="M289.5 635.0L287.35 578.04A57 57 0 0 1 289.50 578.00Z" fill="#8cc656"/><circle cx="289.5" cy="637" r="20.7" fill="#fff"/></g><g stroke="#231815" stroke-width="0.7" stroke-linejoin="round"><path d="M443.7 607.0L443.70 517.20A89.8 89.8 0 0 1 444.26 517.20Z" fill="#7d4f22"/><path d="M443.7 607.0L444.26 517.20A89.8 89.8 0 0 1 462.19 519.12Z" fill="#9b67ad"/><path d="M443.7 607.0L462.19 519.12A89.8 89.8 0 1 1 374.15 663.80Z" fill="#231815"/><path d="M443.7 607.0L374.15 663.80A89.8 89.8 0 0 1 360.84 641.63Z" fill="#f5a42f"/><path d="M443.7 607.0L360.84 641.63A89.8 89.8 0 0 1 361.74 570.30Z" fill="#b1e0f8"/><path d="M443.7 607.0L361.74 570.30A89.8 89.8 0 0 1 439.75 517.29Z" fill="#8cc656"/><path d="M443.7 607.0L439.75 517.29A89.8 89.8 0 0 1 443.70 517.20Z" fill="#d9d9da"/><circle cx="441.7" cy="606" r="29" fill="#fff"/></g><g stroke="#231815" stroke-width="0.7" stroke-linejoin="round"><path d="M569.2 460.2L569.20 392.70A67.5 67.5 0 0 1 571.74 392.75Z" fill="#7d4f22"/><path d="M569.2 460.2L571.74 392.75A67.5 67.5 0 0 1 588.44 524.90Z" fill="#9b67ad"/><path d="M569.2 460.2L588.44 524.90A67.5 67.5 0 0 1 519.13 505.47Z" fill="#231815"/><path d="M569.2 460.2L519.13 505.47A67.5 67.5 0 0 1 507.77 432.23Z" fill="#f5a42f"/><path d="M569.2 460.2L507.77 432.23A67.5 67.5 0 0 1 564.12 392.89Z" fill="#b1e0f8"/><path d="M569.2 460.2L564.12 392.89A67.5 67.5 0 0 1 567.08 392.73Z" fill="#8cc656"/><path d="M569.2 460.2L567.08 392.73A67.5 67.5 0 0 1 569.20 392.70Z" fill="#d9d9da"/><circle cx="569.2" cy="462" r="23.7" fill="#fff"/></g><g stroke="#231815" stroke-width="0.7" stroke-linejoin="round"><path d="M147.5 736.8L147.50 699.30A37.5 37.5 0 0 1 148.21 699.31Z" fill="#7d4f22"/><path d="M147.5 736.8L148.21 699.31A37.5 37.5 0 0 1 162.39 702.38Z" fill="#9b67ad"/><path d="M147.5 736.8L162.39 702.38A37.5 37.5 0 0 1 162.82 702.57Z" fill="#231815"/><path d="M147.5 736.8L162.82 702.57A37.5 37.5 0 1 1 110.76 744.29Z" fill="#f5a42f"/><path d="M147.5 736.8L110.76 744.29A37.5 37.5 0 0 1 114.09 719.78Z" fill="#b1e0f8"/><path d="M147.5 736.8L114.09 719.78A37.5 37.5 0 0 1 144.44 699.43Z" fill="#8cc656"/><path d="M147.5 736.8L144.44 699.43A37.5 37.5 0 0 1 147.50 699.30Z" fill="#d9d9da"/><circle cx="147.5" cy="736.8" r="18.3" fill="#fff"/></g><g stroke="#231815" stroke-width="0.7" stroke-linejoin="round"><path d="M462.5 796.3L462.50 725.00A71.3 71.3 0 0 1 462.95 725.00Z" fill="#7d4f22"/><path d="M462.5 796.3L462.95 725.00A71.3 71.3 0 0 1 474.98 726.10Z" fill="#9b67ad"/><path d="M462.5 796.3L474.98 726.10A71.3 71.3 0 1 1 392.38 783.38Z" fill="#231815"/><path d="M462.5 796.3L392.38 783.38A71.3 71.3 0 0 1 395.26 772.57Z" fill="#f5a42f"/><path d="M462.5 796.3L395.26 772.57A71.3 71.3 0 0 1 413.69 744.32Z" fill="#b1e0f8"/><path d="M462.5 796.3L413.69 744.32A71.3 71.3 0 0 1 462.05 725.00Z" fill="#8cc656"/><path d="M462.5 796.3L462.05 725.00A71.3 71.3 0 0 1 462.50 725.00Z" fill="#d9d9da"/><circle cx="463.3" cy="796.7" r="26.7" fill="#fff"/></g><g stroke="#231815" stroke-width="0.7" stroke-linejoin="round"><path d="M202.5 864.3L202.50 809.30A55 55 0 0 1 244.88 899.36Z" fill="#7d4f22"/><path d="M202.5 864.3L244.88 899.36A55 55 0 1 1 197.67 809.51Z" fill="#9b67ad"/><path d="M202.5 864.3L197.67 809.51A55 55 0 0 1 202.50 809.30Z" fill="#8cc656"/><circle cx="202.5" cy="863.8" r="21.4" fill="#fff"/></g><g stroke="#231815" stroke-width="0.7" stroke-linejoin="round"><path d="M355.5 909.7L355.50 850.90A58.8 58.8 0 0 1 362.50 851.32Z" fill="#7d4f22"/><path d="M355.5 909.7L362.50 851.32A58.8 58.8 0 0 1 410.57 889.09Z" fill="#9b67ad"/><path d="M355.5 909.7L410.57 889.09A58.8 58.8 0 1 1 300.97 887.71Z" fill="#231815"/><path d="M355.5 909.7L300.97 887.71A58.8 58.8 0 0 1 315.52 866.58Z" fill="#b1e0f8"/><path d="M355.5 909.7L315.52 866.58A58.8 58.8 0 0 1 354.39 850.91Z" fill="#8cc656"/><path d="M355.5 909.7L354.39 850.91A58.8 58.8 0 0 1 355.50 850.90Z" fill="#d9d9da"/><circle cx="355.5" cy="909.7" r="20.5" fill="#fff"/></g><g stroke="#231815" stroke-width="0.7" stroke-linejoin="round"><path d="M132.5 988.2L132.50 944.00A44.2 44.2 0 0 1 138.32 944.38Z" fill="#7d4f22"/><path d="M132.5 988.2L138.32 944.38A44.2 44.2 0 1 1 96.58 962.45Z" fill="#231815"/><path d="M132.5 988.2L96.58 962.45A44.2 44.2 0 0 1 104.11 954.32Z" fill="#f5a42f"/><path d="M132.5 988.2L104.11 954.32A44.2 44.2 0 0 1 105.85 952.94Z" fill="#b1e0f8"/><path d="M132.5 988.2L105.85 952.94A44.2 44.2 0 0 1 126.68 944.38Z" fill="#8cc656"/><path d="M132.5 988.2L126.68 944.38A44.2 44.2 0 0 1 132.50 944.00Z" fill="#d9d9da"/><circle cx="132.5" cy="988.2" r="18" fill="#fff"/></g><g stroke="#231815" stroke-width="0.7" stroke-linejoin="round"><path d="M488.0 989.3L488.00 947.30A42 42 0 0 1 492.74 947.57Z" fill="#7d4f22"/><path d="M488.0 989.3L492.74 947.57A42 42 0 0 1 526.95 973.59Z" fill="#9b67ad"/><path d="M488.0 989.3L526.95 973.59A42 42 0 0 1 454.18 1014.20Z" fill="#231815"/><path d="M488.0 989.3L454.18 1014.20A42 42 0 0 1 447.67 1001.02Z" fill="#b1e0f8"/><path d="M488.0 989.3L447.67 1001.02A42 42 0 0 1 487.47 947.30Z" fill="#8cc656"/><path d="M488.0 989.3L487.47 947.30A42 42 0 0 1 488.00 947.30Z" fill="#d9d9da"/><circle cx="487.5" cy="989.6" r="18.5" fill="#fff"/></g><g stroke="#231815" stroke-width="0.7" stroke-linejoin="round"><path d="M897.8 541.2L897.80 491.00A50.2 50.2 0 0 1 901.90 491.17Z" fill="#7d4f22"/><path d="M897.8 541.2L901.90 491.17A50.2 50.2 0 0 1 946.92 551.53Z" fill="#9b67ad"/><path d="M897.8 541.2L946.92 551.53A50.2 50.2 0 0 1 865.56 579.68Z" fill="#231815"/><path d="M897.8 541.2L865.56 579.68A50.2 50.2 0 0 1 869.06 500.04Z" fill="#f5a42f"/><path d="M897.8 541.2L869.06 500.04A50.2 50.2 0 0 1 870.64 498.98Z" fill="#b1e0f8"/><path d="M897.8 541.2L870.64 498.98A50.2 50.2 0 0 1 895.59 491.05Z" fill="#8cc656"/><path d="M897.8 541.2L895.59 491.05A50.2 50.2 0 0 1 897.80 491.00Z" fill="#d9d9da"/><circle cx="897.8" cy="539" r="21" fill="#fff"/></g><g stroke="#231815" stroke-width="0.7" stroke-linejoin="round"><path d="M1026.7 537.7L1026.70 489.70A48 48 0 0 1 1029.11 489.76Z" fill="#7d4f22"/><path d="M1026.7 537.7L1029.11 489.76A48 48 0 0 1 1066.23 510.47Z" fill="#9b67ad"/><path d="M1026.7 537.7L1066.23 510.47A48 48 0 0 1 1072.16 522.29Z" fill="#231815"/><path d="M1026.7 537.7L1072.16 522.29A48 48 0 0 1 1065.18 566.40Z" fill="#f5a42f"/><path d="M1026.7 537.7L1065.18 566.40A48 48 0 1 1 1021.58 489.97Z" fill="#b1e0f8"/><path d="M1026.7 537.7L1021.58 489.97A48 48 0 0 1 1024.59 489.75Z" fill="#8cc656"/><path d="M1026.7 537.7L1024.59 489.75A48 48 0 0 1 1026.70 489.70Z" fill="#d9d9da"/><circle cx="1026.7" cy="535.5" r="18.7" fill="#fff"/></g><g stroke="#231815" stroke-width="0.7" stroke-linejoin="round"><path d="M951.2 682.5L951.20 620.30A62.2 62.2 0 0 1 964.00 621.63Z" fill="#7d4f22"/><path d="M951.2 682.5L964.00 621.63A62.2 62.2 0 0 1 1001.52 719.06Z" fill="#9b67ad"/><path d="M951.2 682.5L1001.52 719.06A62.2 62.2 0 0 1 900.88 719.06Z" fill="#231815"/><path d="M951.2 682.5L900.88 719.06A62.2 62.2 0 0 1 889.71 691.84Z" fill="#f5a42f"/><path d="M951.2 682.5L889.71 691.84A62.2 62.2 0 0 1 892.04 663.28Z" fill="#b1e0f8"/><path d="M951.2 682.5L892.04 663.28A62.2 62.2 0 0 1 930.87 623.72Z" fill="#8cc656"/><path d="M951.2 682.5L930.87 623.72A62.2 62.2 0 0 1 951.20 620.30Z" fill="#d9d9da"/><circle cx="950.3" cy="683.7" r="21.4" fill="#fff"/></g><g stroke="#231815" stroke-width="0.7" stroke-linejoin="round"><path d="M1130.5 692.7L1130.50 619.20A73.5 73.5 0 0 1 1132.35 619.22Z" fill="#7d4f22"/><path d="M1130.5 692.7L1132.35 619.22A73.5 73.5 0 0 1 1159.69 760.15Z" fill="#9b67ad"/><path d="M1130.5 692.7L1159.69 760.15A73.5 73.5 0 0 1 1087.67 752.43Z" fill="#231815"/><path d="M1130.5 692.7L1087.67 752.43A73.5 73.5 0 0 1 1058.39 678.47Z" fill="#f5a42f"/><path d="M1130.5 692.7L1058.39 678.47A73.5 73.5 0 0 1 1067.00 655.68Z" fill="#b1e0f8"/><path d="M1130.5 692.7L1067.00 655.68A73.5 73.5 0 0 1 1129.58 619.21Z" fill="#8cc656"/><path d="M1130.5 692.7L1129.58 619.21A73.5 73.5 0 0 1 1130.50 619.20Z" fill="#d9d9da"/><circle cx="1129.5" cy="691.7" r="28.5" fill="#fff"/></g><g stroke="#231815" stroke-width="0.7" stroke-linejoin="round"><path d="M1325.5 564.5L1325.50 452.00A112.5 112.5 0 0 1 1341.70 453.17Z" fill="#7d4f22"/><path d="M1325.5 564.5L1341.70 453.17A112.5 112.5 0 0 1 1437.99 563.09Z" fill="#9b67ad"/><path d="M1325.5 564.5L1437.99 563.09A112.5 112.5 0 0 1 1259.37 655.51Z" fill="#231815"/><path d="M1325.5 564.5L1259.37 655.51A112.5 112.5 0 0 1 1220.64 605.26Z" fill="#f5a42f"/><path d="M1325.5 564.5L1220.64 605.26A112.5 112.5 0 0 1 1227.95 508.45Z" fill="#b1e0f8"/><path d="M1325.5 564.5L1227.95 508.45A112.5 112.5 0 0 1 1319.85 452.14Z" fill="#8cc656"/><path d="M1325.5 564.5L1319.85 452.14A112.5 112.5 0 0 1 1325.50 452.00Z" fill="#d9d9da"/><circle cx="1324.5" cy="571" r="33" fill="#fff"/></g><g stroke="#231815" stroke-width="0.7" stroke-linejoin="round"><path d="M1266.3 821.3L1266.30 775.00A46.3 46.3 0 0 1 1270.37 775.18Z" fill="#7d4f22"/><path d="M1266.3 821.3L1270.37 775.18A46.3 46.3 0 0 1 1285.22 779.04Z" fill="#9b67ad"/><path d="M1266.3 821.3L1285.22 779.04A46.3 46.3 0 0 1 1290.37 781.75Z" fill="#231815"/><path d="M1266.3 821.3L1290.37 781.75A46.3 46.3 0 0 1 1295.14 785.08Z" fill="#f5a42f"/><path d="M1266.3 821.3L1295.14 785.08A46.3 46.3 0 1 1 1221.38 832.53Z" fill="#b1e0f8"/><path d="M1266.3 821.3L1221.38 832.53A46.3 46.3 0 0 1 1265.43 775.01Z" fill="#8cc656"/><path d="M1266.3 821.3L1265.43 775.01A46.3 46.3 0 0 1 1266.30 775.00Z" fill="#d9d9da"/><circle cx="1266.3" cy="822.5" r="18.7" fill="#fff"/></g><path d="M197.3 396H203.3V402.5" fill="none" stroke="#555" stroke-width="0.5"/><path d="M216.3 396H210.7V402" fill="none" stroke="#555" stroke-width="0.5"/><path d="M245 498L237 494.5" fill="none" stroke="#555" stroke-width="0.5"/><path d="M230 510.7H226.5V504.5" fill="none" stroke="#555" stroke-width="0.5"/><path d="M101 501.7H108.3V508.3" fill="none" stroke="#555" stroke-width="0.5"/><path d="M117.5 501.7H111.7V508.3" fill="none" stroke="#555" stroke-width="0.5"/><path d="M145 572L139.5 567" fill="none" stroke="#555" stroke-width="0.5"/><path d="M287.3 572V578.3" fill="none" stroke="#555" stroke-width="0.5"/><path d="M304.5 573.7H301V580" fill="none" stroke="#555" stroke-width="0.5"/><path d="M266.5 579H276.7V582" fill="none" stroke="#555" stroke-width="0.5"/><path d="M252 589.3H262L267 586" fill="none" stroke="#555" stroke-width="0.5"/><path d="M239.5 600H263L265 597" fill="none" stroke="#555" stroke-width="0.5"/><path d="M436.7 510H441.7V517" fill="none" stroke="#555" stroke-width="0.5"/><path d="M450 497.3H445V517" fill="none" stroke="#555" stroke-width="0.5"/><path d="M458.5 509H451.7V517.5" fill="none" stroke="#555" stroke-width="0.5"/><path d="M566.3 381V393" fill="none" stroke="#555" stroke-width="0.5"/><path d="M556.3 387.3H564V393" fill="none" stroke="#555" stroke-width="0.5"/><path d="M572 387.3H569.5V393" fill="none" stroke="#555" stroke-width="0.5"/><path d="M144 686H147.3V699.5" fill="none" stroke="#555" stroke-width="0.5"/><path d="M158.7 686H149V699.5" fill="none" stroke="#555" stroke-width="0.5"/><path d="M172.5 697.7H158V701" fill="none" stroke="#555" stroke-width="0.5"/><path d="M186 709H164L161 706" fill="none" stroke="#555" stroke-width="0.5"/><path d="M460 718.2H462V725" fill="none" stroke="#555" stroke-width="0.5"/><path d="M466 706.2H463.5V725" fill="none" stroke="#555" stroke-width="0.5"/><path d="M475 718.9H469V726" fill="none" stroke="#555" stroke-width="0.5"/><path d="M197.5 803.3H200V809.5" fill="none" stroke="#555" stroke-width="0.5"/><path d="M352.3 838.3H354V851" fill="none" stroke="#555" stroke-width="0.5"/><path d="M360.3 845H357.3V851" fill="none" stroke="#555" stroke-width="0.5"/><path d="M94.5 946.7H106V952" fill="none" stroke="#555" stroke-width="0.5"/><path d="M94 957.7H100" fill="none" stroke="#555" stroke-width="0.5"/><path d="M116.7 941V948" fill="none" stroke="#555" stroke-width="0.5"/><path d="M125.5 934V944" fill="none" stroke="#555" stroke-width="0.5"/><path d="M136 939H132V944" fill="none" stroke="#555" stroke-width="0.5"/><path d="M479.5 942.7H486V947.7" fill="none" stroke="#555" stroke-width="0.5"/><path d="M494 941.6H490V947.7" fill="none" stroke="#555" stroke-width="0.5"/><path d="M880.7 486H886.7V491.7" fill="none" stroke="#555" stroke-width="0.5"/><path d="M895.7 475.5V490.7" fill="none" stroke="#555" stroke-width="0.5"/><path d="M903.5 484.3H899V490.7" fill="none" stroke="#555" stroke-width="0.5"/><path d="M862 500.7H870" fill="none" stroke="#555" stroke-width="0.5"/><path d="M1011.5 482.7H1022V492" fill="none" stroke="#555" stroke-width="0.5"/><path d="M1024.5 475.5V492" fill="none" stroke="#555" stroke-width="0.5"/><path d="M1031.5 483.3H1027.5V492" fill="none" stroke="#555" stroke-width="0.5"/><path d="M1070 516.7H1079.3" fill="none" stroke="#555" stroke-width="0.5"/><path d="M944 615H947V619.5" fill="none" stroke="#555" stroke-width="0.5"/><path d="M957 615H953.5V619.5" fill="none" stroke="#555" stroke-width="0.5"/><path d="M1124 613.3H1130V619" fill="none" stroke="#555" stroke-width="0.5"/><path d="M1134.3 613.3H1132V619" fill="none" stroke="#555" stroke-width="0.5"/><path d="M1269.3 750H1267.3V775" fill="none" stroke="#555" stroke-width="0.5"/><path d="M1281 760.7H1275V777" fill="none" stroke="#555" stroke-width="0.5"/><path d="M1297 771.7H1288.5L1285 779" fill="none" stroke="#555" stroke-width="0.5"/><path d="M1297 782.7H1294L1290.5 786" fill="none" stroke="#555" stroke-width="0.5"/><path d="M1261.5 767.7H1265V775" fill="none" stroke="#555" stroke-width="0.5"/><path d="M1305 446.7H1321.7V456.5" fill="none" stroke="#333" stroke-width="0.6"/><circle cx="1321.7" cy="457.3" r="1.4" fill="#222"/><path d="M1367.5 446.7H1333.3V456.5" fill="none" stroke="#333" stroke-width="0.6"/><circle cx="1333.3" cy="457.3" r="1.4" fill="#222"/><text x="155.7" y="399.7" font-size="10.5" fill="#3a3a3a" textLength="41.0" lengthAdjust="spacingAndGlyphs">その他4.6</text><text x="217.3" y="399.7" font-size="10.5" fill="#3a3a3a" textLength="32.7" lengthAdjust="spacingAndGlyphs">石油1.0</text><text x="216.0" y="417.0" font-size="10.5" fill="#3a3a3a" textLength="39.0" lengthAdjust="spacingAndGlyphs">天然ガス</text><text x="216.0" y="429.4" font-size="10.5" fill="#3a3a3a" textLength="16.5" lengthAdjust="spacingAndGlyphs">15.1</text><text x="232.3" y="454.4" font-size="10.5" fill="#fff" textLength="20.0" lengthAdjust="spacingAndGlyphs">石炭</text><text x="232.3" y="465.7" font-size="10.5" fill="#fff" textLength="18.2" lengthAdjust="spacingAndGlyphs">24.9</text><text x="146.7" y="458.0" font-size="10.5" fill="#3a3a3a" textLength="41.6" lengthAdjust="spacingAndGlyphs">再生可能</text><text x="147.7" y="469.7" font-size="10.5" fill="#3a3a3a" textLength="40.0" lengthAdjust="spacingAndGlyphs">エネルギー</text><text x="169.0" y="481.0" font-size="10.5" fill="#3a3a3a" textLength="17.7" lengthAdjust="spacingAndGlyphs">49.2</text><text x="245.7" y="501.7" font-size="10.5" fill="#3a3a3a" textLength="41.6" lengthAdjust="spacingAndGlyphs">原子力1.4</text><text x="230.7" y="514.4" font-size="10.5" fill="#3a3a3a" textLength="32.6" lengthAdjust="spacingAndGlyphs">水力3.8</text><text x="208.5" y="446.5" font-size="11.5" fill="#111" text-anchor="middle" font-weight="bold">9</text><text x="208.3" y="459.3" font-size="11.5" fill="#111" text-anchor="middle" textLength="27.4" lengthAdjust="spacingAndGlyphs" font-weight="bold" stroke="#111" stroke-width="0.20">ドイツ</text><text x="55.7" y="505.4" font-size="10.5" fill="#3a3a3a" textLength="44.3" lengthAdjust="spacingAndGlyphs">その他 2.1</text><text x="118.3" y="505.4" font-size="10.5" fill="#3a3a3a" textLength="34.4" lengthAdjust="spacingAndGlyphs">石油 0.8</text><text x="129.3" y="529.4" font-size="10.5" fill="#3a3a3a" textLength="38.0" lengthAdjust="spacingAndGlyphs">天然ガス</text><text x="129.3" y="540.4" font-size="10.5" fill="#3a3a3a" textLength="17.7" lengthAdjust="spacingAndGlyphs">34.3</text><text x="145.7" y="576.4" font-size="10.5" fill="#3a3a3a" textLength="32.0" lengthAdjust="spacingAndGlyphs">石炭1.2</text><text x="126.7" y="594.7" font-size="10.5" fill="#3a3a3a" textLength="48.3" lengthAdjust="spacingAndGlyphs">原子力14.3</text><text x="77.3" y="599.0" font-size="10.5" fill="#3a3a3a" textLength="32.0" lengthAdjust="spacingAndGlyphs">水力1.8</text><text x="51.7" y="543.0" font-size="10.5" fill="#3a3a3a" textLength="39.0" lengthAdjust="spacingAndGlyphs">再生可能</text><text x="53.3" y="554.7" font-size="10.5" fill="#3a3a3a" textLength="38.4" lengthAdjust="spacingAndGlyphs">エネルギー</text><text x="74.0" y="566.0" font-size="10.5" fill="#3a3a3a" textLength="16.7" lengthAdjust="spacingAndGlyphs">45.5</text><text x="110.5" y="543.0" font-size="10.5" fill="#111" text-anchor="middle" font-weight="bold">17</text><text x="110.8" y="555.4" font-size="10.5" fill="#111" text-anchor="middle" textLength="31.7" lengthAdjust="spacingAndGlyphs" font-weight="bold" stroke="#111" stroke-width="0.20">イギリス</text><text x="229.0" y="558.7" font-size="10.5" fill="#3a3a3a" textLength="39.3" lengthAdjust="spacingAndGlyphs">再生可能</text><text x="229.0" y="570.7" font-size="10.5" fill="#3a3a3a" textLength="62.7" lengthAdjust="spacingAndGlyphs">エネルギー0.6</text><text x="305.7" y="577.4" font-size="10.5" fill="#3a3a3a" textLength="32.6" lengthAdjust="spacingAndGlyphs">石油7.0</text><text x="233.3" y="582.7" font-size="10.5" fill="#3a3a3a" textLength="32.7" lengthAdjust="spacingAndGlyphs">水力5.9</text><text x="209.3" y="593.0" font-size="10.5" fill="#3a3a3a" textLength="42.4" lengthAdjust="spacingAndGlyphs">原子力1.7</text><text x="206.7" y="603.7" font-size="10.5" fill="#3a3a3a" textLength="32.6" lengthAdjust="spacingAndGlyphs">石炭0.3</text><text x="289.3" y="666.4" font-size="10.5" fill="#fff" textLength="39.0" lengthAdjust="spacingAndGlyphs">天然ガス</text><text x="289.3" y="677.7" font-size="10.5" fill="#fff" textLength="18.0" lengthAdjust="spacingAndGlyphs">84.5</text><text x="290.0" y="632.1" font-size="12.5" fill="#111" text-anchor="middle" font-weight="bold">7</text><text x="290.0" y="644.4" font-size="12.5" fill="#111" text-anchor="middle" textLength="30.0" lengthAdjust="spacingAndGlyphs" font-weight="bold" stroke="#111" stroke-width="0.20">イラン</text><text x="394.0" y="513.7" font-size="10.5" fill="#3a3a3a" textLength="41.7" lengthAdjust="spacingAndGlyphs">その他0.7</text><text x="450.7" y="501.0" font-size="10.5" fill="#3a3a3a" textLength="32.6" lengthAdjust="spacingAndGlyphs">石油0.1</text><text x="459.3" y="512.7" font-size="10.5" fill="#3a3a3a" textLength="50.7" lengthAdjust="spacingAndGlyphs">天然ガス3.2</text><text x="383.3" y="547.7" font-size="10.5" fill="#3a3a3a" textLength="40.0" lengthAdjust="spacingAndGlyphs">再生可能</text><text x="383.3" y="559.4" font-size="10.5" fill="#3a3a3a" textLength="49.0" lengthAdjust="spacingAndGlyphs">エネルギー</text><text x="383.3" y="571.0" font-size="10.5" fill="#3a3a3a" textLength="17.2" lengthAdjust="spacingAndGlyphs">17.6</text><text x="371.7" y="602.4" font-size="10.5" fill="#3a3a3a" textLength="21.0" lengthAdjust="spacingAndGlyphs">水力</text><text x="372.7" y="613.7" font-size="10.5" fill="#3a3a3a" textLength="17.3" lengthAdjust="spacingAndGlyphs">13.0</text><text x="370.7" y="642.0" font-size="10.5" fill="#3a3a3a" textLength="30.3" lengthAdjust="spacingAndGlyphs">原子力</text><text x="370.7" y="654.4" font-size="10.5" fill="#3a3a3a" textLength="12.3" lengthAdjust="spacingAndGlyphs">4.6</text><text x="481.0" y="613.7" font-size="10.5" fill="#fff" textLength="20.7" lengthAdjust="spacingAndGlyphs">石炭</text><text x="482.3" y="625.4" font-size="10.5" fill="#fff" textLength="18.2" lengthAdjust="spacingAndGlyphs">60.8</text><text x="441.7" y="599.4" font-size="22" fill="#111" text-anchor="middle" font-weight="bold">1</text><text x="441.7" y="621.7" font-size="22" fill="#111" text-anchor="middle" textLength="43.3" lengthAdjust="spacingAndGlyphs" font-weight="bold" stroke="#111" stroke-width="0.12">中国</text><text x="525.7" y="379.4" font-size="10.5" fill="#3a3a3a" textLength="41.6" lengthAdjust="spacingAndGlyphs">その他0.5</text><text x="452.3" y="391.0" font-size="10.5" fill="#3a3a3a" textLength="103.7" lengthAdjust="spacingAndGlyphs">再生可能エネルギー0.7</text><text x="572.7" y="391.0" font-size="10.5" fill="#3a3a3a" textLength="33.0" lengthAdjust="spacingAndGlyphs">石油0.6</text><text x="528.3" y="420.4" font-size="10.5" fill="#3a3a3a" textLength="19.0" lengthAdjust="spacingAndGlyphs">水力</text><text x="528.3" y="432.0" font-size="10.5" fill="#3a3a3a" textLength="18.0" lengthAdjust="spacingAndGlyphs">17.0</text><text x="506.7" y="464.4" font-size="10.5" fill="#3a3a3a" textLength="31.0" lengthAdjust="spacingAndGlyphs">原子力</text><text x="506.7" y="477.0" font-size="10.5" fill="#3a3a3a" textLength="18.0" lengthAdjust="spacingAndGlyphs">18.5</text><text x="545.0" y="501.0" font-size="10.5" fill="#fff" textLength="19.3" lengthAdjust="spacingAndGlyphs">石炭</text><text x="545.0" y="512.7" font-size="10.5" fill="#fff" textLength="18.0" lengthAdjust="spacingAndGlyphs">17.9</text><text x="595.0" y="457.7" font-size="10.5" fill="#3a3a3a" textLength="39.0" lengthAdjust="spacingAndGlyphs">天然ガス</text><text x="595.7" y="469.0" font-size="10.5" fill="#3a3a3a" textLength="18.0" lengthAdjust="spacingAndGlyphs">44.8</text><text x="569.3" y="454.9" font-size="16" fill="#111" text-anchor="middle" font-weight="bold">4</text><text x="569.3" y="472.9" font-size="16" fill="#111" text-anchor="middle" textLength="43.4" lengthAdjust="spacingAndGlyphs" font-weight="bold" stroke="#111" stroke-width="0.12">ロシア</text><text x="101.7" y="689.7" font-size="10.5" fill="#3a3a3a" textLength="41.6" lengthAdjust="spacingAndGlyphs">その他1.3</text><text x="159.3" y="689.7" font-size="10.5" fill="#3a3a3a" textLength="33.4" lengthAdjust="spacingAndGlyphs">石油0.3</text><text x="173.3" y="701.4" font-size="10.5" fill="#3a3a3a" textLength="51.7" lengthAdjust="spacingAndGlyphs">天然ガス6.2</text><text x="186.7" y="712.7" font-size="10.5" fill="#3a3a3a" textLength="32.6" lengthAdjust="spacingAndGlyphs">石炭0.2</text><text x="77.7" y="707.0" font-size="10.5" fill="#3a3a3a" textLength="39.6" lengthAdjust="spacingAndGlyphs">再生可能</text><text x="78.2" y="718.7" font-size="10.5" fill="#3a3a3a" textLength="37.8" lengthAdjust="spacingAndGlyphs">エネルギー</text><text x="119.7" y="718.7" font-size="10.5" fill="#3a3a3a" textLength="17.6" lengthAdjust="spacingAndGlyphs">16.2</text><text x="86.0" y="738.7" font-size="10.5" fill="#3a3a3a" textLength="20.0" lengthAdjust="spacingAndGlyphs">水力</text><text x="111.5" y="738.7" font-size="10.5" fill="#3a3a3a" textLength="17.0" lengthAdjust="spacingAndGlyphs">10.7</text><text x="137.7" y="764.4" font-size="10.5" fill="#3a3a3a" textLength="30.0" lengthAdjust="spacingAndGlyphs">原子力</text><text x="137.7" y="774.4" font-size="10.5" fill="#3a3a3a" textLength="17.3" lengthAdjust="spacingAndGlyphs">65.1</text><text x="146.7" y="730.4" font-size="10.5" fill="#111" text-anchor="middle" font-weight="bold">25</text><text x="147.5" y="742.7" font-size="10.5" fill="#111" text-anchor="middle" textLength="35.0" lengthAdjust="spacingAndGlyphs" font-weight="bold" stroke="#111" stroke-width="0.20">フランス</text><text x="372.3" y="734.7" font-size="10.5" fill="#3a3a3a" textLength="40.0" lengthAdjust="spacingAndGlyphs">再生可能</text><text x="372.3" y="746.4" font-size="10.5" fill="#3a3a3a" textLength="68.4" lengthAdjust="spacingAndGlyphs">エネルギー11.9</text><text x="384.0" y="767.0" font-size="10.5" fill="#3a3a3a" textLength="32.7" lengthAdjust="spacingAndGlyphs">水力7.6</text><text x="357.3" y="783.7" font-size="10.5" fill="#3a3a3a" textLength="43.7" lengthAdjust="spacingAndGlyphs">原子力2.5</text><text x="413.4" y="721.9" font-size="10.5" fill="#3a3a3a" textLength="46.2" lengthAdjust="spacingAndGlyphs">その他0.1</text><text x="466.5" y="709.9" font-size="10.5" fill="#3a3a3a" textLength="31.8" lengthAdjust="spacingAndGlyphs">石油0.1</text><text x="475.5" y="722.6" font-size="10.5" fill="#3a3a3a" textLength="51.6" lengthAdjust="spacingAndGlyphs">天然ガス2.7</text><text x="499.4" y="795.9" font-size="10.5" fill="#fff" textLength="19.8" lengthAdjust="spacingAndGlyphs">石炭</text><text x="499.4" y="807.4" font-size="10.5" fill="#fff" textLength="17.6" lengthAdjust="spacingAndGlyphs">75.1</text><text x="462.7" y="789.3" font-size="20" fill="#111" text-anchor="middle" font-weight="bold">3</text><text x="463.3" y="807.0" font-size="20" fill="#111" text-anchor="middle" textLength="51.6" lengthAdjust="spacingAndGlyphs" font-weight="bold" stroke="#111" stroke-width="0.12">インド</text><text x="134.3" y="795.4" font-size="10.5" fill="#3a3a3a" textLength="40.0" lengthAdjust="spacingAndGlyphs">再生可能</text><text x="134.3" y="807.0" font-size="10.5" fill="#3a3a3a" textLength="63.0" lengthAdjust="spacingAndGlyphs">エネルギー1.4</text><text x="225.0" y="848.7" font-size="10.5" fill="#fff" textLength="20.0" lengthAdjust="spacingAndGlyphs">石油</text><text x="225.0" y="859.7" font-size="10.5" fill="#fff" textLength="18.0" lengthAdjust="spacingAndGlyphs">36.0</text><text x="179.0" y="897.0" font-size="10.5" fill="#fff" textLength="38.3" lengthAdjust="spacingAndGlyphs">天然ガス</text><text x="179.0" y="908.7" font-size="10.5" fill="#fff" textLength="18.0" lengthAdjust="spacingAndGlyphs">62.6</text><text x="201.7" y="852.1" font-size="11" fill="#111" text-anchor="middle" font-weight="bold">8</text><text x="201.7" y="865.7" font-size="11.5" fill="#111" text-anchor="middle" textLength="30.0" lengthAdjust="spacingAndGlyphs" font-weight="bold" stroke="#111" stroke-width="0.12">サウジ</text><text x="202.2" y="877.3" font-size="11.5" fill="#111" text-anchor="middle" textLength="35.7" lengthAdjust="spacingAndGlyphs" font-weight="bold" stroke="#111" stroke-width="0.20">アラビア</text><text x="309.3" y="842.0" font-size="10.5" fill="#3a3a3a" textLength="42.4" lengthAdjust="spacingAndGlyphs">その他0.3</text><text x="361.0" y="848.7" font-size="10.5" fill="#3a3a3a" textLength="32.3" lengthAdjust="spacingAndGlyphs">石油1.9</text><text x="282.3" y="854.4" font-size="10.5" fill="#3a3a3a" textLength="40.0" lengthAdjust="spacingAndGlyphs">再生可能</text><text x="282.3" y="866.4" font-size="10.5" fill="#3a3a3a" textLength="67.7" lengthAdjust="spacingAndGlyphs">エネルギー11.6</text><text x="287.3" y="887.0" font-size="10.5" fill="#3a3a3a" textLength="32.7" lengthAdjust="spacingAndGlyphs">水力7.0</text><text x="363.3" y="875.4" font-size="10.5" fill="#fff" textLength="35.0" lengthAdjust="spacingAndGlyphs">天然ガス</text><text x="363.3" y="887.0" font-size="10.5" fill="#fff" textLength="17.0" lengthAdjust="spacingAndGlyphs">17.4</text><text x="345.0" y="944.7" font-size="10.5" fill="#fff" textLength="20.0" lengthAdjust="spacingAndGlyphs">石炭</text><text x="345.0" y="956.0" font-size="10.5" fill="#fff" textLength="18.0" lengthAdjust="spacingAndGlyphs">61.8</text><text x="355.0" y="899.0" font-size="11.5" fill="#111" text-anchor="middle" font-weight="bold">6</text><text x="355.0" y="911.3" font-size="11.5" fill="#111" text-anchor="middle" textLength="28.6" lengthAdjust="spacingAndGlyphs" font-weight="bold" stroke="#111" stroke-width="0.20">インド</text><text x="355.0" y="923.0" font-size="11.5" fill="#111" text-anchor="middle" textLength="28.6" lengthAdjust="spacingAndGlyphs" font-weight="bold" stroke="#111" stroke-width="0.20">ネシア</text><text x="61.0" y="928.0" font-size="10.5" fill="#3a3a3a" textLength="40.0" lengthAdjust="spacingAndGlyphs">再生可能</text><text x="61.0" y="940.4" font-size="10.5" fill="#3a3a3a" textLength="63.0" lengthAdjust="spacingAndGlyphs">エネルギー8.2</text><text x="126.7" y="932.0" font-size="10.5" fill="#3a3a3a" textLength="42.3" lengthAdjust="spacingAndGlyphs">その他2.1</text><text x="136.7" y="942.7" font-size="10.5" fill="#3a3a3a" textLength="32.3" lengthAdjust="spacingAndGlyphs">石油2.1</text><text x="61.0" y="950.4" font-size="10.5" fill="#3a3a3a" textLength="33.0" lengthAdjust="spacingAndGlyphs">水力0.8</text><text x="50.0" y="961.4" font-size="10.5" fill="#3a3a3a" textLength="43.3" lengthAdjust="spacingAndGlyphs">原子力4.0</text><text x="123.3" y="1018.0" font-size="10.5" fill="#fff" textLength="20.0" lengthAdjust="spacingAndGlyphs">石炭</text><text x="123.3" y="1029.4" font-size="10.5" fill="#fff" textLength="18.0" lengthAdjust="spacingAndGlyphs">82.8</text><text x="133.3" y="982.0" font-size="10.5" fill="#111" text-anchor="middle" font-weight="bold">14</text><text x="133.2" y="994.2" font-size="10" fill="#111" text-anchor="middle" textLength="31.7" lengthAdjust="spacingAndGlyphs" font-weight="bold" stroke="#111" stroke-width="0.20">南アフリカ</text><text x="436.0" y="946.4" font-size="10.5" fill="#3a3a3a" textLength="43.0" lengthAdjust="spacingAndGlyphs">その他0.2</text><text x="494.7" y="945.3" font-size="10.5" fill="#3a3a3a" textLength="32.4" lengthAdjust="spacingAndGlyphs">石油1.8</text><text x="426.7" y="967.0" font-size="10.5" fill="#3a3a3a" textLength="40.0" lengthAdjust="spacingAndGlyphs">再生可能</text><text x="428.3" y="978.7" font-size="10.5" fill="#3a3a3a" textLength="38.4" lengthAdjust="spacingAndGlyphs">エネルギー</text><text x="449.0" y="990.4" font-size="10.5" fill="#3a3a3a" textLength="17.7" lengthAdjust="spacingAndGlyphs">29.3</text><text x="429.0" y="1009.4" font-size="10.5" fill="#3a3a3a" textLength="32.7" lengthAdjust="spacingAndGlyphs">水力5.6</text><text x="496.5" y="960.8" font-size="10.5" fill="#3a3a3a" textLength="38.5" lengthAdjust="spacingAndGlyphs">天然ガス</text><text x="497.2" y="972.4" font-size="10.5" fill="#3a3a3a" textLength="16.6" lengthAdjust="spacingAndGlyphs">17.1</text><text x="480.0" y="1018.0" font-size="10.5" fill="#fff" textLength="20.0" lengthAdjust="spacingAndGlyphs">石炭</text><text x="480.0" y="1029.4" font-size="10.5" fill="#fff" textLength="18.0" lengthAdjust="spacingAndGlyphs">46.0</text><text x="488.3" y="983.7" font-size="10.5" fill="#111" text-anchor="middle" font-weight="bold">16</text><text x="488.0" y="995.4" font-size="10.5" fill="#111" text-anchor="middle" textLength="32.6" lengthAdjust="spacingAndGlyphs" font-weight="bold" stroke="#111" stroke-width="0.20">オースト</text><text x="488.0" y="1006.0" font-size="10.5" fill="#111" text-anchor="middle" textLength="24.0" lengthAdjust="spacingAndGlyphs" font-weight="bold" stroke="#111" stroke-width="0.20">ラリア</text><text x="829.3" y="478.7" font-size="10.5" fill="#3a3a3a" textLength="39.7" lengthAdjust="spacingAndGlyphs">再生可能</text><text x="829.3" y="489.7" font-size="10.5" fill="#3a3a3a" textLength="50.7" lengthAdjust="spacingAndGlyphs">エネルギー8.4</text><text x="875.7" y="473.7" font-size="10.5" fill="#3a3a3a" textLength="42.6" lengthAdjust="spacingAndGlyphs">その他0.7</text><text x="904.3" y="488.0" font-size="10.5" fill="#3a3a3a" textLength="32.4" lengthAdjust="spacingAndGlyphs">石油1.3</text><text x="829.3" y="504.4" font-size="10.5" fill="#3a3a3a" textLength="32.4" lengthAdjust="spacingAndGlyphs">水力0.6</text><text x="905.0" y="517.0" font-size="10.5" fill="#3a3a3a" textLength="39.3" lengthAdjust="spacingAndGlyphs">天然ガス</text><text x="916.0" y="528.7" font-size="10.5" fill="#3a3a3a" textLength="18.0" lengthAdjust="spacingAndGlyphs">27.0</text><text x="845.7" y="537.0" font-size="10.5" fill="#3a3a3a" textLength="29.3" lengthAdjust="spacingAndGlyphs">原子力</text><text x="856.7" y="548.0" font-size="10.5" fill="#3a3a3a" textLength="18.3" lengthAdjust="spacingAndGlyphs">29.2</text><text x="882.7" y="574.7" font-size="10.5" fill="#fff" textLength="39.0" lengthAdjust="spacingAndGlyphs">石炭32.8</text><text x="897.3" y="535.6" font-size="11" fill="#111" text-anchor="middle" font-weight="bold">10</text><text x="897.3" y="547.7" font-size="11.5" fill="#111" text-anchor="middle" textLength="23.3" lengthAdjust="spacingAndGlyphs" font-weight="bold" stroke="#111" stroke-width="0.12">韓国</text><text x="949.0" y="473.7" font-size="10.5" fill="#3a3a3a" textLength="40.0" lengthAdjust="spacingAndGlyphs">再生可能</text><text x="949.0" y="486.4" font-size="10.5" fill="#3a3a3a" textLength="62.0" lengthAdjust="spacingAndGlyphs">エネルギー9.0</text><text x="998.9" y="473.7" font-size="10.5" fill="#3a3a3a" textLength="41.8" lengthAdjust="spacingAndGlyphs">その他0.7</text><text x="1032.3" y="487.0" font-size="10.5" fill="#3a3a3a" textLength="31.7" lengthAdjust="spacingAndGlyphs">石油0.8</text><text x="1031.0" y="502.7" font-size="10.5" fill="#3a3a3a" textLength="37.3" lengthAdjust="spacingAndGlyphs">天然ガス</text><text x="1031.0" y="514.4" font-size="10.5" fill="#3a3a3a" textLength="17.0" lengthAdjust="spacingAndGlyphs">14.2</text><text x="1080.0" y="520.4" font-size="10.5" fill="#3a3a3a" textLength="31.7" lengthAdjust="spacingAndGlyphs">石炭3.7</text><text x="1046.0" y="540.4" font-size="10.5" fill="#3a3a3a" textLength="29.0" lengthAdjust="spacingAndGlyphs">原子力</text><text x="1048.3" y="553.0" font-size="10.5" fill="#3a3a3a" textLength="17.0" lengthAdjust="spacingAndGlyphs">14.1</text><text x="991.0" y="554.7" font-size="10.5" fill="#3a3a3a" textLength="19.0" lengthAdjust="spacingAndGlyphs">水力</text><text x="991.0" y="566.0" font-size="10.5" fill="#3a3a3a" textLength="18.0" lengthAdjust="spacingAndGlyphs">57.5</text><text x="1027.3" y="530.4" font-size="10.5" fill="#111" text-anchor="middle" font-weight="bold">11</text><text x="1027.0" y="543.7" font-size="10.5" fill="#111" text-anchor="middle" textLength="28.0" lengthAdjust="spacingAndGlyphs" font-weight="bold" stroke="#111" stroke-width="0.12">カナダ</text><text x="901.7" y="618.7" font-size="10.5" fill="#3a3a3a" textLength="41.6" lengthAdjust="spacingAndGlyphs">その他5.3</text><text x="957.7" y="618.7" font-size="10.5" fill="#3a3a3a" textLength="32.3" lengthAdjust="spacingAndGlyphs">石油3.3</text><text x="896.7" y="640.4" font-size="10.5" fill="#3a3a3a" textLength="35.0" lengthAdjust="spacingAndGlyphs">再生可能</text><text x="897.7" y="652.0" font-size="10.5" fill="#3a3a3a" textLength="37.3" lengthAdjust="spacingAndGlyphs">エネルギー</text><text x="897.7" y="664.4" font-size="10.5" fill="#3a3a3a" textLength="17.0" lengthAdjust="spacingAndGlyphs">14.7</text><text x="890.0" y="677.0" font-size="10.5" fill="#3a3a3a" textLength="19.0" lengthAdjust="spacingAndGlyphs">水力</text><text x="890.0" y="688.7" font-size="10.5" fill="#3a3a3a" textLength="12.0" lengthAdjust="spacingAndGlyphs">7.4</text><text x="891.7" y="702.7" font-size="10.5" fill="#3a3a3a" textLength="30.6" lengthAdjust="spacingAndGlyphs">原子力</text><text x="891.7" y="713.7" font-size="10.5" fill="#3a3a3a" textLength="12.0" lengthAdjust="spacingAndGlyphs">7.6</text><text x="965.0" y="662.7" font-size="10.5" fill="#fff" textLength="38.3" lengthAdjust="spacingAndGlyphs">天然ガス</text><text x="971.7" y="675.4" font-size="10.5" fill="#fff" textLength="17.0" lengthAdjust="spacingAndGlyphs">31.7</text><text x="938.0" y="720.0" font-size="10.5" fill="#fff" textLength="19.4" lengthAdjust="spacingAndGlyphs">石炭</text><text x="938.9" y="732.2" font-size="10.5" fill="#fff" textLength="18.5" lengthAdjust="spacingAndGlyphs">30.0</text><text x="950.0" y="679.9" font-size="14" fill="#111" text-anchor="middle" font-weight="bold">5</text><text x="950.2" y="695.4" font-size="13.5" fill="#111" text-anchor="middle" textLength="25.0" lengthAdjust="spacingAndGlyphs" font-weight="bold" stroke="#111" stroke-width="0.12">日本</text><text x="1081.0" y="617.0" font-size="10.5" fill="#3a3a3a" textLength="42.3" lengthAdjust="spacingAndGlyphs">その他0.2</text><text x="1135.0" y="617.0" font-size="10.5" fill="#3a3a3a" textLength="32.7" lengthAdjust="spacingAndGlyphs">石油0.4</text><text x="1085.0" y="642.0" font-size="10.5" fill="#3a3a3a" textLength="40.0" lengthAdjust="spacingAndGlyphs">再生可能</text><text x="1086.0" y="653.7" font-size="10.5" fill="#3a3a3a" textLength="35.7" lengthAdjust="spacingAndGlyphs">エネルギー</text><text x="1086.0" y="665.4" font-size="10.5" fill="#3a3a3a" textLength="17.0" lengthAdjust="spacingAndGlyphs">16.4</text><text x="1056.7" y="677.0" font-size="10.5" fill="#3a3a3a" textLength="32.3" lengthAdjust="spacingAndGlyphs">水力5.3</text><text x="1066.7" y="708.0" font-size="10.5" fill="#3a3a3a" textLength="30.6" lengthAdjust="spacingAndGlyphs">原子力</text><text x="1066.7" y="719.7" font-size="10.5" fill="#3a3a3a" textLength="17.0" lengthAdjust="spacingAndGlyphs">18.2</text><text x="1148.3" y="656.4" font-size="10.5" fill="#fff" textLength="39.0" lengthAdjust="spacingAndGlyphs">天然ガス</text><text x="1149.3" y="667.7" font-size="10.5" fill="#fff" textLength="17.0" lengthAdjust="spacingAndGlyphs">43.1</text><text x="1114.3" y="739.4" font-size="10.5" fill="#fff" textLength="19.0" lengthAdjust="spacingAndGlyphs">石炭</text><text x="1114.3" y="751.0" font-size="10.5" fill="#fff" textLength="17.0" lengthAdjust="spacingAndGlyphs">16.4</text><text x="1129.3" y="686.3" font-size="20" fill="#111" text-anchor="middle" font-weight="bold">2</text><text x="1129.5" y="706.6" font-size="19" fill="#111" text-anchor="middle" textLength="54.4" lengthAdjust="spacingAndGlyphs" font-weight="bold" stroke="#111" stroke-width="0.20">アメリカ</text><text x="1254.3" y="450.9" font-size="12" fill="#3a3a3a" textLength="50.0" lengthAdjust="spacingAndGlyphs">その他0.8</text><text x="1368.3" y="450.9" font-size="12" fill="#3a3a3a" textLength="38.4" lengthAdjust="spacingAndGlyphs">石油2.3</text><text x="1252.3" y="492.5" font-size="12" fill="#3a3a3a" textLength="46.0" lengthAdjust="spacingAndGlyphs">再生可能</text><text x="1252.3" y="507.5" font-size="12" fill="#3a3a3a" textLength="56.0" lengthAdjust="spacingAndGlyphs">エネルギー</text><text x="1252.3" y="520.9" font-size="12" fill="#3a3a3a" textLength="21.0" lengthAdjust="spacingAndGlyphs">15.9</text><text x="1230.0" y="555.9" font-size="12" fill="#3a3a3a" textLength="23.3" lengthAdjust="spacingAndGlyphs">水力</text><text x="1230.0" y="570.2" font-size="12" fill="#3a3a3a" textLength="21.0" lengthAdjust="spacingAndGlyphs">14.2</text><text x="1242.7" y="616.5" font-size="12" fill="#3a3a3a" textLength="35.6" lengthAdjust="spacingAndGlyphs">原子力</text><text x="1242.7" y="630.9" font-size="12" fill="#3a3a3a" textLength="14.0" lengthAdjust="spacingAndGlyphs">9.1</text><text x="1345.0" y="521.5" font-size="12" fill="#fff" textLength="45.7" lengthAdjust="spacingAndGlyphs">天然ガス</text><text x="1345.0" y="536.5" font-size="12" fill="#fff" textLength="21.0" lengthAdjust="spacingAndGlyphs">22.5</text><text x="1344.3" y="620.2" font-size="12" fill="#fff" textLength="24.0" lengthAdjust="spacingAndGlyphs">石炭</text><text x="1344.3" y="634.9" font-size="12" fill="#fff" textLength="21.0" lengthAdjust="spacingAndGlyphs">35.2</text><text x="1325.8" y="576.5" font-size="16.5" fill="#111" text-anchor="middle" textLength="65.0" lengthAdjust="spacingAndGlyphs" font-weight="bold" stroke="#111" stroke-width="0.12">世界平均</text><text x="1340.0" y="705.8" font-size="14.6" fill="#222" textLength="58.3" lengthAdjust="spacingAndGlyphs">化石燃料</text><text x="1270.0" y="753.7" font-size="10.5" fill="#3a3a3a" textLength="32.7" lengthAdjust="spacingAndGlyphs">石油1.4</text><text x="1281.7" y="764.4" font-size="10.5" fill="#3a3a3a" textLength="50.6" lengthAdjust="spacingAndGlyphs">天然ガス5.3</text><text x="1297.7" y="775.4" font-size="10.5" fill="#3a3a3a" textLength="33.0" lengthAdjust="spacingAndGlyphs">石炭2.0</text><text x="1297.7" y="786.4" font-size="10.5" fill="#3a3a3a" textLength="43.0" lengthAdjust="spacingAndGlyphs">原子力2.0</text><text x="1219.3" y="771.4" font-size="10.5" fill="#3a3a3a" textLength="41.7" lengthAdjust="spacingAndGlyphs">その他0.3</text><text x="1222.3" y="793.7" font-size="10.5" fill="#3a3a3a" textLength="39.4" lengthAdjust="spacingAndGlyphs">再生可能</text><text x="1223.3" y="805.4" font-size="10.5" fill="#3a3a3a" textLength="36.7" lengthAdjust="spacingAndGlyphs">エネルギー</text><text x="1228.3" y="817.0" font-size="10.5" fill="#3a3a3a" textLength="18.4" lengthAdjust="spacingAndGlyphs">28.6</text><text x="1257.7" y="851.4" font-size="10.5" fill="#3a3a3a" textLength="19.0" lengthAdjust="spacingAndGlyphs">水力</text><text x="1257.7" y="861.4" font-size="10.5" fill="#3a3a3a" textLength="18.3" lengthAdjust="spacingAndGlyphs">60.4</text><text x="1266.7" y="815.4" font-size="10.5" fill="#111" text-anchor="middle" font-weight="bold">13</text><text x="1266.7" y="828.0" font-size="10.5" fill="#111" text-anchor="middle" textLength="33.3" lengthAdjust="spacingAndGlyphs" font-weight="bold" stroke="#111" stroke-width="0.20">ブラジル</text><text x="288.3" y="456.8" font-size="19.5" fill="#2a2a2a" textLength="153.4" lengthAdjust="spacingAndGlyphs">中国が世界で一番</text><text x="288.3" y="477.1" font-size="19.5" fill="#2a2a2a" textLength="203.4" lengthAdjust="spacingAndGlyphs">発電に石炭を使っている</text><text x="834.0" y="414.6" font-size="27.5" fill="#222" textLength="291.0" lengthAdjust="spacingAndGlyphs">世界の電気エネルギー源</text><text x="834.0" y="441.1" font-size="27.5" fill="#222" textLength="158.7" lengthAdjust="spacingAndGlyphs">国別比較地図</text><text x="1006.3" y="428.4" font-size="11" fill="#333" textLength="121.5" lengthAdjust="spacingAndGlyphs">出典：Energy Institute 2024</text><text x="1168.3" y="407.8" font-size="19.5" fill="#2a2a2a" textLength="166.7" lengthAdjust="spacingAndGlyphs">世界の電気の60%が</text><text x="1168.3" y="429.5" font-size="19.5" fill="#2a2a2a" textLength="292.4" lengthAdjust="spacingAndGlyphs">まだ化石燃料によって作られている</text><text x="939.0" y="828.5" font-size="19.5" fill="#2a2a2a" textLength="254.3" lengthAdjust="spacingAndGlyphs">世界の1人当たりの電力消費量</text><text x="939.0" y="847.0" font-size="13.3" fill="#333" textLength="142.0" lengthAdjust="spacingAndGlyphs">上位から最下位の国まで</text><text x="939.0" y="863.0" font-size="13.3" fill="#333" textLength="159.6" lengthAdjust="spacingAndGlyphs">いくつかの国をピックアップ</text><text x="1148.3" y="843.4" font-size="11" fill="#333" textLength="45.0" lengthAdjust="spacingAndGlyphs">出典:EIA</text><text x="542.3" y="884.4" font-size="10.5" fill="#333" textLength="54.4" lengthAdjust="spacingAndGlyphs">インドネシア</text><text x="212.5" y="221.6" font-size="6.3" fill="#2a2a2a" textLength="6.0" lengthAdjust="spacingAndGlyphs">か</text><text x="81.5" y="274.1" font-size="6.3" fill="#2a2a2a" textLength="56.0" lengthAdjust="spacingAndGlyphs">か りょくはつでん</text><text x="172.5" y="274.1" font-size="6.3" fill="#2a2a2a" textLength="57.5" lengthAdjust="spacingAndGlyphs">か せきねんりょう</text><text x="244.0" y="274.1" font-size="6.3" fill="#2a2a2a" textLength="28.5" lengthAdjust="spacingAndGlyphs">せきたん</text><text x="287.5" y="274.1" font-size="6.3" fill="#2a2a2a" textLength="27.5" lengthAdjust="spacingAndGlyphs">せき ゆ</text><text x="331.5" y="274.1" font-size="6.3" fill="#2a2a2a" textLength="28.5" lengthAdjust="spacingAndGlyphs">てんねん</text><text x="220.0" y="300.6" font-size="6.3" fill="#2a2a2a" textLength="27.5" lengthAdjust="spacingAndGlyphs">じょう き</text><text x="263.5" y="300.6" font-size="6.3" fill="#2a2a2a" textLength="28.0" lengthAdjust="spacingAndGlyphs">はっせい</text><text x="591.5" y="169.1" font-size="6.3" fill="#2a2a2a" textLength="28.5" lengthAdjust="spacingAndGlyphs">はいしゅつ</text><text x="505.0" y="195.6" font-size="6.3" fill="#2a2a2a" textLength="30.0" lengthAdjust="spacingAndGlyphs">だっきゃく</text><text x="564.0" y="274.1" font-size="6.3" fill="#2a2a2a" textLength="29.5" lengthAdjust="spacingAndGlyphs">げんじょう</text><text x="445.0" y="326.6" font-size="6.3" fill="#2a2a2a" textLength="27.5" lengthAdjust="spacingAndGlyphs">そう き</text><text x="487.5" y="326.6" font-size="6.3" fill="#2a2a2a" textLength="29.0" lengthAdjust="spacingAndGlyphs">てんかん</text><text x="862.5" y="90.6" font-size="6.3" fill="#2a2a2a" textLength="57.5" lengthAdjust="spacingAndGlyphs">でんげんこうせい</text><text x="919.0" y="116.6" font-size="6.3" fill="#2a2a2a" textLength="28.5" lengthAdjust="spacingAndGlyphs">わりあい</text><text x="890.0" y="169.1" font-size="6.3" fill="#2a2a2a" textLength="15.0" lengthAdjust="spacingAndGlyphs">のぞ</text><text x="846.5" y="195.6" font-size="6.3" fill="#2a2a2a" textLength="29.5" lengthAdjust="spacingAndGlyphs">しゅりゅう</text><text x="846.5" y="247.6" font-size="6.3" fill="#2a2a2a" textLength="57.5" lengthAdjust="spacingAndGlyphs">だつたん そ か</text><text x="1213.5" y="90.6" font-size="6.3" fill="#2a2a2a" textLength="28.0" lengthAdjust="spacingAndGlyphs">はくおう</text><text x="1435.0" y="90.6" font-size="6.3" fill="#2a2a2a" textLength="14.0" lengthAdjust="spacingAndGlyphs">ちゅう</text><text x="1171.0" y="116.6" font-size="6.3" fill="#2a2a2a" textLength="11.5" lengthAdjust="spacingAndGlyphs">とう</text><text x="1329.0" y="116.6" font-size="6.3" fill="#2a2a2a" textLength="73.5" lengthAdjust="spacingAndGlyphs">しゅちょうこくれんぽう</text><text x="1413.5" y="143.1" font-size="6.3" fill="#2a2a2a" textLength="28.0" lengthAdjust="spacingAndGlyphs">だんぼう</text><text x="1244.0" y="169.1" font-size="6.3" fill="#2a2a2a" textLength="28.5" lengthAdjust="spacingAndGlyphs">れいぼう</text><text x="1258.5" y="195.6" font-size="6.3" fill="#2a2a2a" textLength="41.5" lengthAdjust="spacingAndGlyphs">おんだん か</text><text x="1376.0" y="195.6" font-size="6.3" fill="#2a2a2a" textLength="27.5" lengthAdjust="spacingAndGlyphs">じゅよう</text><text x="1215.0" y="247.6" font-size="6.3" fill="#2a2a2a" textLength="26.5" lengthAdjust="spacingAndGlyphs">ひっ し</text><text x="1185.0" y="300.6" font-size="6.3" fill="#2a2a2a" textLength="27.5" lengthAdjust="spacingAndGlyphs">あし な</text><text x="1302.5" y="300.6" font-size="6.3" fill="#2a2a2a" textLength="14.0" lengthAdjust="spacingAndGlyphs">そろ</text></svg>
</body></html>
